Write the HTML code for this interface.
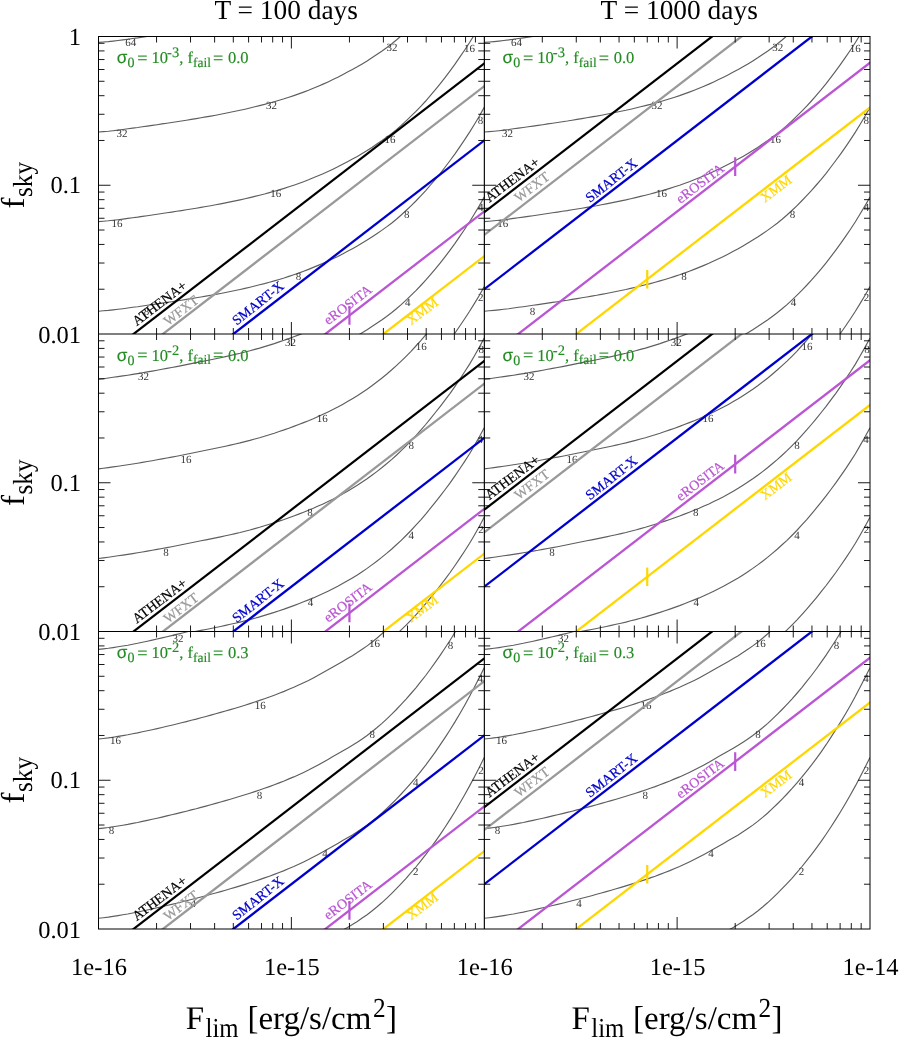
<!DOCTYPE html>
<html><head><meta charset="utf-8"><title>f_sky vs F_lim</title>
<style>html,body{margin:0;padding:0;background:#fff}body{width:899px;height:1037px;overflow:hidden;font-family:"Liberation Serif",serif}</style>
</head><body>
<svg width="899" height="1037" viewBox="0 0 899 1037" style="display:block;will-change:transform">
<rect width="100%" height="100%" fill="#fff"/>
<defs>
<clipPath id="cp00"><rect x="98.50" y="36.50" width="385.75" height="297.50"/></clipPath>
<clipPath id="cp01"><rect x="98.50" y="334.00" width="385.75" height="297.50"/></clipPath>
<clipPath id="cp02"><rect x="98.50" y="631.50" width="385.75" height="297.50"/></clipPath>
<clipPath id="cp10"><rect x="484.25" y="36.50" width="385.75" height="297.50"/></clipPath>
<clipPath id="cp11"><rect x="484.25" y="334.00" width="385.75" height="297.50"/></clipPath>
<clipPath id="cp12"><rect x="484.25" y="631.50" width="385.75" height="297.50"/></clipPath>
</defs>
<g clip-path="url(#cp00)">
<path d="M98.5,42.4 L103.4,42.0 L108.3,41.6 L113.1,41.1 L118.0,40.5 L122.9,39.9 L127.8,39.2 L132.7,38.5 L137.6,37.9 L142.4,37.2 L147.3,36.5 L152.2,35.8 L157.1,35.1 L162.0,34.3 L166.9,33.6 L171.7,32.9 L176.6,32.1 L181.5,31.4 L186.4,30.6 L191.3,29.8 L196.2,29.0 L201.0,28.2 L205.9,27.3 L210.8,26.5 L215.7,25.6 L220.6,24.7 L225.5,23.7 L230.3,22.7 L235.2,21.7 L240.1,20.7 L245.0,19.6 L249.9,18.4 L254.8,17.2 L259.6,16.0 L264.5,14.8 L269.4,13.4 L274.3,12.1 L279.2,10.7 L284.1,9.2 L288.9,7.6 L293.8,6.0 L298.7,4.3 L303.6,2.5 L308.5,0.6 L313.3,-1.4 L318.2,-3.4 L323.1,-5.5 L328.0,-7.7 L332.9,-10.0 L337.8,-12.4 L342.6,-14.9 L347.5,-17.5 L352.4,-20.1 L357.3,-22.8 L362.2,-25.7 L367.1,-28.7 L371.9,-31.8 L376.8,-35.1 L381.7,-38.4 L386.6,-41.9 L391.5,-45.6 L396.4,-49.6 L401.2,-53.8 L406.1,-58.3 L411.0,-63.0 L415.9,-67.8 L420.8,-72.9 L425.7,-78.2 L430.5,-83.8 L435.4,-89.5 L440.3,-95.5 L445.2,-101.8 L450.1,-108.3 L455.0,-115.0 L459.8,-122.0 L464.7,-129.2 L469.6,-136.7 L474.5,-144.6 L479.4,-152.8 L484.2,-161.4" fill="none" stroke="#5e5e5e" stroke-width="1.15"/>
<path d="M98.5,132.0 L103.4,131.6 L108.3,131.2 L113.1,130.7 L118.0,130.1 L122.9,129.5 L127.8,128.8 L132.7,128.1 L137.6,127.5 L142.4,126.8 L147.3,126.1 L152.2,125.4 L157.1,124.7 L162.0,123.9 L166.9,123.2 L171.7,122.5 L176.6,121.7 L181.5,121.0 L186.4,120.2 L191.3,119.4 L196.2,118.6 L201.0,117.8 L205.9,116.9 L210.8,116.1 L215.7,115.2 L220.6,114.3 L225.5,113.3 L230.3,112.3 L235.2,111.3 L240.1,110.3 L245.0,109.2 L249.9,108.0 L254.8,106.8 L259.6,105.6 L264.5,104.4 L269.4,103.0 L274.3,101.7 L279.2,100.3 L284.1,98.8 L288.9,97.2 L293.8,95.6 L298.7,93.9 L303.6,92.1 L308.5,90.2 L313.3,88.2 L318.2,86.2 L323.1,84.1 L328.0,81.9 L332.9,79.6 L337.8,77.2 L342.6,74.7 L347.5,72.1 L352.4,69.5 L357.3,66.8 L362.2,63.9 L367.1,60.9 L371.9,57.8 L376.8,54.5 L381.7,51.2 L386.6,47.7 L391.5,44.0 L396.4,40.0 L401.2,35.8 L406.1,31.3 L411.0,26.6 L415.9,21.8 L420.8,16.7 L425.7,11.4 L430.5,5.8 L435.4,0.1 L440.3,-5.9 L445.2,-12.2 L450.1,-18.7 L455.0,-25.4 L459.8,-32.4 L464.7,-39.6 L469.6,-47.1 L474.5,-55.0 L479.4,-63.2 L484.2,-71.8" fill="none" stroke="#5e5e5e" stroke-width="1.15"/>
<path d="M98.5,221.6 L103.4,221.2 L108.3,220.8 L113.1,220.3 L118.0,219.7 L122.9,219.1 L127.8,218.4 L132.7,217.7 L137.6,217.1 L142.4,216.4 L147.3,215.7 L152.2,215.0 L157.1,214.3 L162.0,213.5 L166.9,212.8 L171.7,212.1 L176.6,211.3 L181.5,210.6 L186.4,209.8 L191.3,209.0 L196.2,208.2 L201.0,207.4 L205.9,206.5 L210.8,205.7 L215.7,204.8 L220.6,203.9 L225.5,202.9 L230.3,201.9 L235.2,200.9 L240.1,199.9 L245.0,198.8 L249.9,197.6 L254.8,196.4 L259.6,195.2 L264.5,194.0 L269.4,192.6 L274.3,191.3 L279.2,189.9 L284.1,188.4 L288.9,186.8 L293.8,185.2 L298.7,183.5 L303.6,181.7 L308.5,179.8 L313.3,177.8 L318.2,175.8 L323.1,173.7 L328.0,171.5 L332.9,169.2 L337.8,166.8 L342.6,164.3 L347.5,161.7 L352.4,159.1 L357.3,156.4 L362.2,153.5 L367.1,150.5 L371.9,147.4 L376.8,144.1 L381.7,140.8 L386.6,137.3 L391.5,133.6 L396.4,129.6 L401.2,125.4 L406.1,120.9 L411.0,116.2 L415.9,111.4 L420.8,106.3 L425.7,101.0 L430.5,95.4 L435.4,89.7 L440.3,83.7 L445.2,77.4 L450.1,70.9 L455.0,64.2 L459.8,57.2 L464.7,50.0 L469.6,42.5 L474.5,34.6 L479.4,26.4 L484.2,17.8" fill="none" stroke="#5e5e5e" stroke-width="1.15"/>
<path d="M98.5,311.2 L103.4,310.8 L108.3,310.4 L113.1,309.9 L118.0,309.3 L122.9,308.7 L127.8,308.0 L132.7,307.3 L137.6,306.7 L142.4,306.0 L147.3,305.3 L152.2,304.6 L157.1,303.9 L162.0,303.1 L166.9,302.4 L171.7,301.7 L176.6,300.9 L181.5,300.2 L186.4,299.4 L191.3,298.6 L196.2,297.8 L201.0,297.0 L205.9,296.1 L210.8,295.3 L215.7,294.4 L220.6,293.5 L225.5,292.5 L230.3,291.5 L235.2,290.5 L240.1,289.5 L245.0,288.4 L249.9,287.2 L254.8,286.0 L259.6,284.8 L264.5,283.6 L269.4,282.2 L274.3,280.9 L279.2,279.5 L284.1,278.0 L288.9,276.4 L293.8,274.8 L298.7,273.1 L303.6,271.3 L308.5,269.4 L313.3,267.4 L318.2,265.4 L323.1,263.3 L328.0,261.1 L332.9,258.8 L337.8,256.4 L342.6,253.9 L347.5,251.3 L352.4,248.7 L357.3,246.0 L362.2,243.1 L367.1,240.1 L371.9,237.0 L376.8,233.7 L381.7,230.4 L386.6,226.9 L391.5,223.2 L396.4,219.2 L401.2,215.0 L406.1,210.5 L411.0,205.8 L415.9,201.0 L420.8,195.9 L425.7,190.6 L430.5,185.0 L435.4,179.3 L440.3,173.3 L445.2,167.0 L450.1,160.5 L455.0,153.8 L459.8,146.8 L464.7,139.6 L469.6,132.1 L474.5,124.2 L479.4,116.0 L484.2,107.4" fill="none" stroke="#5e5e5e" stroke-width="1.15"/>
<path d="M98.5,400.8 L103.4,400.4 L108.3,400.0 L113.1,399.5 L118.0,398.9 L122.9,398.3 L127.8,397.6 L132.7,396.9 L137.6,396.3 L142.4,395.6 L147.3,394.9 L152.2,394.2 L157.1,393.5 L162.0,392.7 L166.9,392.0 L171.7,391.3 L176.6,390.5 L181.5,389.8 L186.4,389.0 L191.3,388.2 L196.2,387.4 L201.0,386.6 L205.9,385.7 L210.8,384.9 L215.7,384.0 L220.6,383.1 L225.5,382.1 L230.3,381.1 L235.2,380.1 L240.1,379.1 L245.0,378.0 L249.9,376.8 L254.8,375.6 L259.6,374.4 L264.5,373.2 L269.4,371.8 L274.3,370.5 L279.2,369.1 L284.1,367.6 L288.9,366.0 L293.8,364.4 L298.7,362.7 L303.6,360.9 L308.5,359.0 L313.3,357.0 L318.2,355.0 L323.1,352.9 L328.0,350.7 L332.9,348.4 L337.8,346.0 L342.6,343.5 L347.5,340.9 L352.4,338.3 L357.3,335.6 L362.2,332.7 L367.1,329.7 L371.9,326.6 L376.8,323.3 L381.7,320.0 L386.6,316.5 L391.5,312.8 L396.4,308.8 L401.2,304.6 L406.1,300.1 L411.0,295.4 L415.9,290.6 L420.8,285.5 L425.7,280.2 L430.5,274.6 L435.4,268.9 L440.3,262.9 L445.2,256.6 L450.1,250.1 L455.0,243.4 L459.8,236.4 L464.7,229.2 L469.6,221.7 L474.5,213.8 L479.4,205.6 L484.2,197.0" fill="none" stroke="#5e5e5e" stroke-width="1.15"/>
<path d="M98.5,490.4 L103.4,490.0 L108.3,489.6 L113.1,489.1 L118.0,488.5 L122.9,487.9 L127.8,487.2 L132.7,486.5 L137.6,485.9 L142.4,485.2 L147.3,484.5 L152.2,483.8 L157.1,483.1 L162.0,482.3 L166.9,481.6 L171.7,480.9 L176.6,480.1 L181.5,479.4 L186.4,478.6 L191.3,477.8 L196.2,477.0 L201.0,476.2 L205.9,475.3 L210.8,474.5 L215.7,473.6 L220.6,472.7 L225.5,471.7 L230.3,470.7 L235.2,469.7 L240.1,468.7 L245.0,467.6 L249.9,466.4 L254.8,465.2 L259.6,464.0 L264.5,462.8 L269.4,461.4 L274.3,460.1 L279.2,458.7 L284.1,457.2 L288.9,455.6 L293.8,454.0 L298.7,452.3 L303.6,450.5 L308.5,448.6 L313.3,446.6 L318.2,444.6 L323.1,442.5 L328.0,440.3 L332.9,438.0 L337.8,435.6 L342.6,433.1 L347.5,430.5 L352.4,427.9 L357.3,425.2 L362.2,422.3 L367.1,419.3 L371.9,416.2 L376.8,412.9 L381.7,409.6 L386.6,406.1 L391.5,402.4 L396.4,398.4 L401.2,394.2 L406.1,389.7 L411.0,385.0 L415.9,380.2 L420.8,375.1 L425.7,369.8 L430.5,364.2 L435.4,358.5 L440.3,352.5 L445.2,346.2 L450.1,339.7 L455.0,333.0 L459.8,326.0 L464.7,318.8 L469.6,311.3 L474.5,303.4 L479.4,295.2 L484.2,286.6" fill="none" stroke="#5e5e5e" stroke-width="1.15"/>
<g font-family="Liberation Serif, serif" font-size="11" style="text-rendering:geometricPrecision" fill="#333" text-anchor="middle">
<text x="130.8" y="46.3">64</text>
<text x="121.9" y="137.0">32</text>
<text x="271.4" y="108.9">32</text>
<text x="392.0" y="50.5">32</text>
<text x="469.5" y="51.5">16</text>
<text x="117.0" y="226.7">16</text>
<text x="146.6" y="314.7">8</text>
<text x="275.7" y="197.3">16</text>
<text x="389.9" y="142.5">16</text>
<text x="298.4" y="279.6">8</text>
<text x="406.7" y="218.0">8</text>
<text x="480.5" y="124.0">8</text>
<text x="407.8" y="305.9">4</text>
<text x="480.8" y="211.3">4</text>
<text x="480.8" y="301.4">2</text>
</g>
<line x1="93.50" y1="364.85" x2="489.25" y2="59.64" stroke="#000000" stroke-width="2.2"/>
<line x1="93.50" y1="387.54" x2="489.25" y2="82.33" stroke="#999999" stroke-width="2.3"/>
<line x1="93.50" y1="441.83" x2="489.25" y2="136.62" stroke="#0000cd" stroke-width="2.3"/>
<line x1="93.50" y1="512.80" x2="489.25" y2="207.59" stroke="#ba55d3" stroke-width="2.3"/>
<line x1="93.50" y1="557.58" x2="489.25" y2="252.37" stroke="#ffd700" stroke-width="2.3"/>
<line x1="349.44" y1="306.12" x2="349.44" y2="324.72" stroke="#ba55d3" stroke-width="2.2"/>
<line x1="261.50" y1="418.71" x2="261.50" y2="437.31" stroke="#ffd700" stroke-width="2.2"/>
</g>
<g clip-path="url(#cp01)">
<path d="M98.5,289.7 L103.4,289.1 L108.3,288.4 L113.1,287.7 L118.0,287.0 L122.9,286.3 L127.8,285.6 L132.7,284.8 L137.6,284.0 L142.4,283.2 L147.3,282.3 L152.2,281.5 L157.1,280.6 L162.0,279.7 L166.9,278.8 L171.7,277.9 L176.6,277.0 L181.5,276.0 L186.4,275.0 L191.3,274.0 L196.2,273.0 L201.0,272.0 L205.9,271.1 L210.8,270.1 L215.7,269.1 L220.6,268.1 L225.5,267.0 L230.3,265.9 L235.2,264.8 L240.1,263.7 L245.0,262.4 L249.9,261.2 L254.8,259.8 L259.6,258.5 L264.5,257.0 L269.4,255.5 L274.3,254.0 L279.2,252.3 L284.1,250.7 L288.9,249.0 L293.8,247.2 L298.7,245.3 L303.6,243.4 L308.5,241.5 L313.3,239.5 L318.2,237.3 L323.1,235.1 L328.0,232.8 L332.9,230.4 L337.8,227.9 L342.6,225.2 L347.5,222.4 L352.4,219.5 L357.3,216.5 L362.2,213.3 L367.1,210.0 L371.9,206.5 L376.8,202.8 L381.7,199.0 L386.6,195.0 L391.5,190.8 L396.4,186.4 L401.2,181.9 L406.1,177.1 L411.0,172.1 L415.9,166.8 L420.8,161.4 L425.7,155.7 L430.5,149.8 L435.4,143.7 L440.3,137.5 L445.2,131.1 L450.1,124.5 L455.0,117.5 L459.8,110.4 L464.7,103.0 L469.6,95.3 L474.5,87.0 L479.4,78.3 L484.2,69.3" fill="none" stroke="#5e5e5e" stroke-width="1.15"/>
<path d="M98.5,379.3 L103.4,378.7 L108.3,378.0 L113.1,377.3 L118.0,376.6 L122.9,375.9 L127.8,375.2 L132.7,374.4 L137.6,373.6 L142.4,372.8 L147.3,371.9 L152.2,371.1 L157.1,370.2 L162.0,369.3 L166.9,368.4 L171.7,367.5 L176.6,366.6 L181.5,365.6 L186.4,364.6 L191.3,363.6 L196.2,362.6 L201.0,361.6 L205.9,360.7 L210.8,359.7 L215.7,358.7 L220.6,357.7 L225.5,356.6 L230.3,355.5 L235.2,354.4 L240.1,353.3 L245.0,352.0 L249.9,350.8 L254.8,349.4 L259.6,348.1 L264.5,346.6 L269.4,345.1 L274.3,343.6 L279.2,341.9 L284.1,340.3 L288.9,338.6 L293.8,336.8 L298.7,334.9 L303.6,333.0 L308.5,331.1 L313.3,329.1 L318.2,326.9 L323.1,324.7 L328.0,322.4 L332.9,320.0 L337.8,317.5 L342.6,314.8 L347.5,312.0 L352.4,309.1 L357.3,306.1 L362.2,302.9 L367.1,299.6 L371.9,296.1 L376.8,292.4 L381.7,288.6 L386.6,284.6 L391.5,280.4 L396.4,276.0 L401.2,271.5 L406.1,266.7 L411.0,261.7 L415.9,256.4 L420.8,251.0 L425.7,245.3 L430.5,239.4 L435.4,233.3 L440.3,227.1 L445.2,220.7 L450.1,214.1 L455.0,207.1 L459.8,200.0 L464.7,192.6 L469.6,184.9 L474.5,176.6 L479.4,167.9 L484.2,158.9" fill="none" stroke="#5e5e5e" stroke-width="1.15"/>
<path d="M98.5,468.9 L103.4,468.3 L108.3,467.6 L113.1,466.9 L118.0,466.2 L122.9,465.5 L127.8,464.8 L132.7,464.0 L137.6,463.2 L142.4,462.4 L147.3,461.5 L152.2,460.7 L157.1,459.8 L162.0,458.9 L166.9,458.0 L171.7,457.1 L176.6,456.2 L181.5,455.2 L186.4,454.2 L191.3,453.2 L196.2,452.2 L201.0,451.2 L205.9,450.3 L210.8,449.3 L215.7,448.3 L220.6,447.3 L225.5,446.2 L230.3,445.1 L235.2,444.0 L240.1,442.9 L245.0,441.6 L249.9,440.4 L254.8,439.0 L259.6,437.7 L264.5,436.2 L269.4,434.7 L274.3,433.2 L279.2,431.5 L284.1,429.9 L288.9,428.2 L293.8,426.4 L298.7,424.5 L303.6,422.6 L308.5,420.7 L313.3,418.7 L318.2,416.5 L323.1,414.3 L328.0,412.0 L332.9,409.6 L337.8,407.1 L342.6,404.4 L347.5,401.6 L352.4,398.7 L357.3,395.7 L362.2,392.5 L367.1,389.2 L371.9,385.7 L376.8,382.0 L381.7,378.2 L386.6,374.2 L391.5,370.0 L396.4,365.6 L401.2,361.1 L406.1,356.3 L411.0,351.3 L415.9,346.0 L420.8,340.6 L425.7,334.9 L430.5,329.0 L435.4,322.9 L440.3,316.7 L445.2,310.3 L450.1,303.7 L455.0,296.7 L459.8,289.6 L464.7,282.2 L469.6,274.5 L474.5,266.2 L479.4,257.5 L484.2,248.5" fill="none" stroke="#5e5e5e" stroke-width="1.15"/>
<path d="M98.5,558.5 L103.4,557.9 L108.3,557.2 L113.1,556.5 L118.0,555.8 L122.9,555.1 L127.8,554.4 L132.7,553.6 L137.6,552.8 L142.4,552.0 L147.3,551.1 L152.2,550.3 L157.1,549.4 L162.0,548.5 L166.9,547.6 L171.7,546.7 L176.6,545.8 L181.5,544.8 L186.4,543.8 L191.3,542.8 L196.2,541.8 L201.0,540.8 L205.9,539.9 L210.8,538.9 L215.7,537.9 L220.6,536.9 L225.5,535.8 L230.3,534.7 L235.2,533.6 L240.1,532.5 L245.0,531.2 L249.9,530.0 L254.8,528.6 L259.6,527.3 L264.5,525.8 L269.4,524.3 L274.3,522.8 L279.2,521.1 L284.1,519.5 L288.9,517.8 L293.8,516.0 L298.7,514.1 L303.6,512.2 L308.5,510.3 L313.3,508.3 L318.2,506.1 L323.1,503.9 L328.0,501.6 L332.9,499.2 L337.8,496.7 L342.6,494.0 L347.5,491.2 L352.4,488.3 L357.3,485.3 L362.2,482.1 L367.1,478.8 L371.9,475.3 L376.8,471.6 L381.7,467.8 L386.6,463.8 L391.5,459.6 L396.4,455.2 L401.2,450.7 L406.1,445.9 L411.0,440.9 L415.9,435.6 L420.8,430.2 L425.7,424.5 L430.5,418.6 L435.4,412.5 L440.3,406.3 L445.2,399.9 L450.1,393.3 L455.0,386.3 L459.8,379.2 L464.7,371.8 L469.6,364.1 L474.5,355.8 L479.4,347.1 L484.2,338.1" fill="none" stroke="#5e5e5e" stroke-width="1.15"/>
<path d="M98.5,648.1 L103.4,647.5 L108.3,646.8 L113.1,646.1 L118.0,645.4 L122.9,644.7 L127.8,644.0 L132.7,643.2 L137.6,642.4 L142.4,641.6 L147.3,640.7 L152.2,639.9 L157.1,639.0 L162.0,638.1 L166.9,637.2 L171.7,636.3 L176.6,635.4 L181.5,634.4 L186.4,633.4 L191.3,632.4 L196.2,631.4 L201.0,630.4 L205.9,629.5 L210.8,628.5 L215.7,627.5 L220.6,626.5 L225.5,625.4 L230.3,624.3 L235.2,623.2 L240.1,622.1 L245.0,620.8 L249.9,619.6 L254.8,618.2 L259.6,616.9 L264.5,615.4 L269.4,613.9 L274.3,612.4 L279.2,610.7 L284.1,609.1 L288.9,607.4 L293.8,605.6 L298.7,603.7 L303.6,601.8 L308.5,599.9 L313.3,597.9 L318.2,595.7 L323.1,593.5 L328.0,591.2 L332.9,588.8 L337.8,586.3 L342.6,583.6 L347.5,580.8 L352.4,577.9 L357.3,574.9 L362.2,571.7 L367.1,568.4 L371.9,564.9 L376.8,561.2 L381.7,557.4 L386.6,553.4 L391.5,549.2 L396.4,544.8 L401.2,540.3 L406.1,535.5 L411.0,530.5 L415.9,525.2 L420.8,519.8 L425.7,514.1 L430.5,508.2 L435.4,502.1 L440.3,495.9 L445.2,489.5 L450.1,482.9 L455.0,475.9 L459.8,468.8 L464.7,461.4 L469.6,453.7 L474.5,445.4 L479.4,436.7 L484.2,427.7" fill="none" stroke="#5e5e5e" stroke-width="1.15"/>
<path d="M98.5,737.7 L103.4,737.1 L108.3,736.4 L113.1,735.7 L118.0,735.0 L122.9,734.3 L127.8,733.6 L132.7,732.8 L137.6,732.0 L142.4,731.2 L147.3,730.3 L152.2,729.5 L157.1,728.6 L162.0,727.7 L166.9,726.8 L171.7,725.9 L176.6,725.0 L181.5,724.0 L186.4,723.0 L191.3,722.0 L196.2,721.0 L201.0,720.0 L205.9,719.1 L210.8,718.1 L215.7,717.1 L220.6,716.1 L225.5,715.0 L230.3,713.9 L235.2,712.8 L240.1,711.7 L245.0,710.4 L249.9,709.2 L254.8,707.8 L259.6,706.5 L264.5,705.0 L269.4,703.5 L274.3,702.0 L279.2,700.3 L284.1,698.7 L288.9,697.0 L293.8,695.2 L298.7,693.3 L303.6,691.4 L308.5,689.5 L313.3,687.5 L318.2,685.3 L323.1,683.1 L328.0,680.8 L332.9,678.4 L337.8,675.9 L342.6,673.2 L347.5,670.4 L352.4,667.5 L357.3,664.5 L362.2,661.3 L367.1,658.0 L371.9,654.5 L376.8,650.8 L381.7,647.0 L386.6,643.0 L391.5,638.8 L396.4,634.4 L401.2,629.9 L406.1,625.1 L411.0,620.1 L415.9,614.8 L420.8,609.4 L425.7,603.7 L430.5,597.8 L435.4,591.7 L440.3,585.5 L445.2,579.1 L450.1,572.5 L455.0,565.5 L459.8,558.4 L464.7,551.0 L469.6,543.3 L474.5,535.0 L479.4,526.3 L484.2,517.3" fill="none" stroke="#5e5e5e" stroke-width="1.15"/>
<g font-family="Liberation Serif, serif" font-size="11" style="text-rendering:geometricPrecision" fill="#333" text-anchor="middle">
<text x="143.4" y="380.2">32</text>
<text x="290.5" y="346.0">32</text>
<text x="186.1" y="462.5">16</text>
<text x="322.3" y="422.0">16</text>
<text x="421.3" y="349.5">16</text>
<text x="166.1" y="555.8">8</text>
<text x="310.0" y="516.4">8</text>
<text x="411.2" y="449.2">8</text>
<text x="481.3" y="353.1">8</text>
<text x="310.5" y="605.9">4</text>
<text x="411.2" y="539.1">4</text>
<text x="480.2" y="442.5">4</text>
<text x="480.9" y="532.9">2</text>
</g>
<line x1="93.50" y1="662.35" x2="489.25" y2="357.14" stroke="#000000" stroke-width="2.2"/>
<line x1="93.50" y1="685.04" x2="489.25" y2="379.83" stroke="#999999" stroke-width="2.3"/>
<line x1="93.50" y1="739.33" x2="489.25" y2="434.12" stroke="#0000cd" stroke-width="2.3"/>
<line x1="93.50" y1="810.30" x2="489.25" y2="505.09" stroke="#ba55d3" stroke-width="2.3"/>
<line x1="93.50" y1="855.08" x2="489.25" y2="549.87" stroke="#ffd700" stroke-width="2.3"/>
<line x1="349.44" y1="603.62" x2="349.44" y2="622.22" stroke="#ba55d3" stroke-width="2.2"/>
<line x1="261.50" y1="716.21" x2="261.50" y2="734.81" stroke="#ffd700" stroke-width="2.2"/>
</g>
<g clip-path="url(#cp02)">
<path d="M98.5,559.8 L103.4,559.3 L108.3,558.7 L113.1,558.0 L118.0,557.2 L122.9,556.4 L127.8,555.6 L132.7,554.6 L137.6,553.7 L142.4,552.6 L147.3,551.6 L152.2,550.5 L157.1,549.4 L162.0,548.3 L166.9,547.1 L171.7,546.0 L176.6,544.8 L181.5,543.6 L186.4,542.4 L191.3,541.1 L196.2,539.9 L201.0,538.6 L205.9,537.3 L210.8,535.9 L215.7,534.6 L220.6,533.2 L225.5,531.8 L230.3,530.4 L235.2,529.0 L240.1,527.5 L245.0,526.0 L249.9,524.4 L254.8,522.8 L259.6,521.2 L264.5,519.5 L269.4,517.8 L274.3,516.0 L279.2,514.1 L284.1,512.2 L288.9,510.1 L293.8,508.1 L298.7,505.9 L303.6,503.6 L308.5,501.2 L313.3,498.7 L318.2,496.1 L323.1,493.4 L328.0,490.6 L332.9,487.8 L337.8,485.0 L342.6,482.2 L347.5,479.4 L352.4,476.5 L357.3,473.4 L362.2,470.1 L367.1,466.7 L371.9,463.0 L376.8,459.0 L381.7,454.8 L386.6,450.3 L391.5,445.6 L396.4,440.7 L401.2,435.6 L406.1,430.3 L411.0,424.7 L415.9,419.0 L420.8,412.9 L425.7,406.7 L430.5,400.2 L435.4,393.4 L440.3,386.3 L445.2,379.0 L450.1,371.4 L455.0,363.5 L459.8,355.3 L464.7,346.8 L469.6,337.9 L474.5,328.7 L479.4,319.2 L484.2,309.4" fill="none" stroke="#5e5e5e" stroke-width="1.15"/>
<path d="M98.5,649.4 L103.4,648.9 L108.3,648.3 L113.1,647.6 L118.0,646.8 L122.9,646.0 L127.8,645.2 L132.7,644.2 L137.6,643.3 L142.4,642.2 L147.3,641.2 L152.2,640.1 L157.1,639.0 L162.0,637.9 L166.9,636.7 L171.7,635.6 L176.6,634.4 L181.5,633.2 L186.4,632.0 L191.3,630.7 L196.2,629.5 L201.0,628.2 L205.9,626.9 L210.8,625.5 L215.7,624.2 L220.6,622.8 L225.5,621.4 L230.3,620.0 L235.2,618.6 L240.1,617.1 L245.0,615.6 L249.9,614.0 L254.8,612.4 L259.6,610.8 L264.5,609.1 L269.4,607.4 L274.3,605.6 L279.2,603.7 L284.1,601.8 L288.9,599.7 L293.8,597.7 L298.7,595.5 L303.6,593.2 L308.5,590.8 L313.3,588.3 L318.2,585.7 L323.1,583.0 L328.0,580.2 L332.9,577.4 L337.8,574.6 L342.6,571.8 L347.5,569.0 L352.4,566.1 L357.3,563.0 L362.2,559.7 L367.1,556.3 L371.9,552.6 L376.8,548.6 L381.7,544.4 L386.6,539.9 L391.5,535.2 L396.4,530.3 L401.2,525.2 L406.1,519.9 L411.0,514.3 L415.9,508.6 L420.8,502.5 L425.7,496.3 L430.5,489.8 L435.4,483.0 L440.3,475.9 L445.2,468.6 L450.1,461.0 L455.0,453.1 L459.8,444.9 L464.7,436.4 L469.6,427.5 L474.5,418.3 L479.4,408.8 L484.2,399.0" fill="none" stroke="#5e5e5e" stroke-width="1.15"/>
<path d="M98.5,739.0 L103.4,738.5 L108.3,737.9 L113.1,737.2 L118.0,736.4 L122.9,735.6 L127.8,734.8 L132.7,733.8 L137.6,732.9 L142.4,731.8 L147.3,730.8 L152.2,729.7 L157.1,728.6 L162.0,727.5 L166.9,726.3 L171.7,725.2 L176.6,724.0 L181.5,722.8 L186.4,721.6 L191.3,720.3 L196.2,719.1 L201.0,717.8 L205.9,716.5 L210.8,715.1 L215.7,713.8 L220.6,712.4 L225.5,711.0 L230.3,709.6 L235.2,708.2 L240.1,706.7 L245.0,705.2 L249.9,703.6 L254.8,702.0 L259.6,700.4 L264.5,698.7 L269.4,697.0 L274.3,695.2 L279.2,693.3 L284.1,691.4 L288.9,689.3 L293.8,687.3 L298.7,685.1 L303.6,682.8 L308.5,680.4 L313.3,677.9 L318.2,675.3 L323.1,672.6 L328.0,669.8 L332.9,667.0 L337.8,664.2 L342.6,661.4 L347.5,658.6 L352.4,655.7 L357.3,652.6 L362.2,649.3 L367.1,645.9 L371.9,642.2 L376.8,638.2 L381.7,634.0 L386.6,629.5 L391.5,624.8 L396.4,619.9 L401.2,614.8 L406.1,609.5 L411.0,603.9 L415.9,598.2 L420.8,592.1 L425.7,585.9 L430.5,579.4 L435.4,572.6 L440.3,565.5 L445.2,558.2 L450.1,550.6 L455.0,542.7 L459.8,534.5 L464.7,526.0 L469.6,517.1 L474.5,507.9 L479.4,498.4 L484.2,488.6" fill="none" stroke="#5e5e5e" stroke-width="1.15"/>
<path d="M98.5,828.6 L103.4,828.1 L108.3,827.5 L113.1,826.8 L118.0,826.0 L122.9,825.2 L127.8,824.4 L132.7,823.4 L137.6,822.5 L142.4,821.4 L147.3,820.4 L152.2,819.3 L157.1,818.2 L162.0,817.1 L166.9,815.9 L171.7,814.8 L176.6,813.6 L181.5,812.4 L186.4,811.2 L191.3,809.9 L196.2,808.7 L201.0,807.4 L205.9,806.1 L210.8,804.7 L215.7,803.4 L220.6,802.0 L225.5,800.6 L230.3,799.2 L235.2,797.8 L240.1,796.3 L245.0,794.8 L249.9,793.2 L254.8,791.6 L259.6,790.0 L264.5,788.3 L269.4,786.6 L274.3,784.8 L279.2,782.9 L284.1,781.0 L288.9,778.9 L293.8,776.9 L298.7,774.7 L303.6,772.4 L308.5,770.0 L313.3,767.5 L318.2,764.9 L323.1,762.2 L328.0,759.4 L332.9,756.6 L337.8,753.8 L342.6,751.0 L347.5,748.2 L352.4,745.3 L357.3,742.2 L362.2,738.9 L367.1,735.5 L371.9,731.8 L376.8,727.8 L381.7,723.6 L386.6,719.1 L391.5,714.4 L396.4,709.5 L401.2,704.4 L406.1,699.1 L411.0,693.5 L415.9,687.8 L420.8,681.7 L425.7,675.5 L430.5,669.0 L435.4,662.2 L440.3,655.1 L445.2,647.8 L450.1,640.2 L455.0,632.3 L459.8,624.1 L464.7,615.6 L469.6,606.7 L474.5,597.5 L479.4,588.0 L484.2,578.2" fill="none" stroke="#5e5e5e" stroke-width="1.15"/>
<path d="M98.5,918.2 L103.4,917.7 L108.3,917.1 L113.1,916.4 L118.0,915.6 L122.9,914.8 L127.8,914.0 L132.7,913.0 L137.6,912.1 L142.4,911.0 L147.3,910.0 L152.2,908.9 L157.1,907.8 L162.0,906.7 L166.9,905.5 L171.7,904.4 L176.6,903.2 L181.5,902.0 L186.4,900.8 L191.3,899.5 L196.2,898.3 L201.0,897.0 L205.9,895.7 L210.8,894.3 L215.7,893.0 L220.6,891.6 L225.5,890.2 L230.3,888.8 L235.2,887.4 L240.1,885.9 L245.0,884.4 L249.9,882.8 L254.8,881.2 L259.6,879.6 L264.5,877.9 L269.4,876.2 L274.3,874.4 L279.2,872.5 L284.1,870.6 L288.9,868.5 L293.8,866.5 L298.7,864.3 L303.6,862.0 L308.5,859.6 L313.3,857.1 L318.2,854.5 L323.1,851.8 L328.0,849.0 L332.9,846.2 L337.8,843.4 L342.6,840.6 L347.5,837.8 L352.4,834.9 L357.3,831.8 L362.2,828.5 L367.1,825.1 L371.9,821.4 L376.8,817.4 L381.7,813.2 L386.6,808.7 L391.5,804.0 L396.4,799.1 L401.2,794.0 L406.1,788.7 L411.0,783.1 L415.9,777.4 L420.8,771.3 L425.7,765.1 L430.5,758.6 L435.4,751.8 L440.3,744.7 L445.2,737.4 L450.1,729.8 L455.0,721.9 L459.8,713.7 L464.7,705.2 L469.6,696.3 L474.5,687.1 L479.4,677.6 L484.2,667.8" fill="none" stroke="#5e5e5e" stroke-width="1.15"/>
<path d="M98.5,1007.8 L103.4,1007.3 L108.3,1006.7 L113.1,1006.0 L118.0,1005.2 L122.9,1004.4 L127.8,1003.6 L132.7,1002.6 L137.6,1001.7 L142.4,1000.6 L147.3,999.6 L152.2,998.5 L157.1,997.4 L162.0,996.3 L166.9,995.1 L171.7,994.0 L176.6,992.8 L181.5,991.6 L186.4,990.4 L191.3,989.1 L196.2,987.9 L201.0,986.6 L205.9,985.3 L210.8,983.9 L215.7,982.6 L220.6,981.2 L225.5,979.8 L230.3,978.4 L235.2,977.0 L240.1,975.5 L245.0,974.0 L249.9,972.4 L254.8,970.8 L259.6,969.2 L264.5,967.5 L269.4,965.8 L274.3,964.0 L279.2,962.1 L284.1,960.2 L288.9,958.1 L293.8,956.1 L298.7,953.9 L303.6,951.6 L308.5,949.2 L313.3,946.7 L318.2,944.1 L323.1,941.4 L328.0,938.6 L332.9,935.8 L337.8,933.0 L342.6,930.2 L347.5,927.4 L352.4,924.5 L357.3,921.4 L362.2,918.1 L367.1,914.7 L371.9,911.0 L376.8,907.0 L381.7,902.8 L386.6,898.3 L391.5,893.6 L396.4,888.7 L401.2,883.6 L406.1,878.3 L411.0,872.7 L415.9,867.0 L420.8,860.9 L425.7,854.7 L430.5,848.2 L435.4,841.4 L440.3,834.3 L445.2,827.0 L450.1,819.4 L455.0,811.5 L459.8,803.3 L464.7,794.8 L469.6,785.9 L474.5,776.7 L479.4,767.2 L484.2,757.4" fill="none" stroke="#5e5e5e" stroke-width="1.15"/>
<g font-family="Liberation Serif, serif" font-size="11" style="text-rendering:geometricPrecision" fill="#333" text-anchor="middle">
<text x="177.9" y="642.3">32</text>
<text x="115.6" y="743.5">16</text>
<text x="260.2" y="709.0">16</text>
<text x="374.5" y="647.4">16</text>
<text x="111.6" y="834.2">8</text>
<text x="259.5" y="798.6">8</text>
<text x="372.3" y="738.0">8</text>
<text x="450.6" y="649.0">8</text>
<text x="193.2" y="906.8">4</text>
<text x="325.1" y="856.9">4</text>
<text x="415.7" y="785.5">4</text>
<text x="480.2" y="681.9">4</text>
<text x="415.7" y="874.7">2</text>
<text x="480.9" y="774.2">2</text>
</g>
<line x1="93.50" y1="959.85" x2="489.25" y2="654.64" stroke="#000000" stroke-width="2.2"/>
<line x1="93.50" y1="982.54" x2="489.25" y2="677.33" stroke="#999999" stroke-width="2.3"/>
<line x1="93.50" y1="1036.83" x2="489.25" y2="731.62" stroke="#0000cd" stroke-width="2.3"/>
<line x1="93.50" y1="1107.80" x2="489.25" y2="802.59" stroke="#ba55d3" stroke-width="2.3"/>
<line x1="93.50" y1="1152.58" x2="489.25" y2="847.37" stroke="#ffd700" stroke-width="2.3"/>
<line x1="349.44" y1="901.12" x2="349.44" y2="919.72" stroke="#ba55d3" stroke-width="2.2"/>
<line x1="261.50" y1="1013.71" x2="261.50" y2="1032.31" stroke="#ffd700" stroke-width="2.2"/>
</g>
<g clip-path="url(#cp10)">
<path d="M484.2,42.4 L489.1,42.0 L494.0,41.6 L498.9,41.1 L503.8,40.5 L508.7,39.9 L513.5,39.2 L518.4,38.5 L523.3,37.9 L528.2,37.2 L533.1,36.5 L538.0,35.8 L542.8,35.1 L547.7,34.3 L552.6,33.6 L557.5,32.9 L562.4,32.1 L567.3,31.4 L572.1,30.6 L577.0,29.8 L581.9,29.0 L586.8,28.2 L591.7,27.3 L596.6,26.5 L601.4,25.6 L606.3,24.7 L611.2,23.7 L616.1,22.7 L621.0,21.7 L625.9,20.7 L630.7,19.6 L635.6,18.4 L640.5,17.2 L645.4,16.0 L650.3,14.8 L655.2,13.4 L660.0,12.1 L664.9,10.7 L669.8,9.2 L674.7,7.6 L679.6,6.0 L684.4,4.3 L689.3,2.5 L694.2,0.6 L699.1,-1.4 L704.0,-3.4 L708.9,-5.5 L713.7,-7.7 L718.6,-10.0 L723.5,-12.4 L728.4,-14.9 L733.3,-17.5 L738.2,-20.1 L743.0,-22.8 L747.9,-25.7 L752.8,-28.7 L757.7,-31.8 L762.6,-35.1 L767.5,-38.4 L772.3,-41.9 L777.2,-45.6 L782.1,-49.6 L787.0,-53.8 L791.9,-58.3 L796.8,-63.0 L801.6,-67.8 L806.5,-72.9 L811.4,-78.2 L816.3,-83.8 L821.2,-89.5 L826.1,-95.5 L830.9,-101.8 L835.8,-108.3 L840.7,-115.0 L845.6,-122.0 L850.5,-129.2 L855.4,-136.7 L860.2,-144.6 L865.1,-152.8 L870.0,-161.4" fill="none" stroke="#5e5e5e" stroke-width="1.15"/>
<path d="M484.2,132.0 L489.1,131.6 L494.0,131.2 L498.9,130.7 L503.8,130.1 L508.7,129.5 L513.5,128.8 L518.4,128.1 L523.3,127.5 L528.2,126.8 L533.1,126.1 L538.0,125.4 L542.8,124.7 L547.7,123.9 L552.6,123.2 L557.5,122.5 L562.4,121.7 L567.3,121.0 L572.1,120.2 L577.0,119.4 L581.9,118.6 L586.8,117.8 L591.7,116.9 L596.6,116.1 L601.4,115.2 L606.3,114.3 L611.2,113.3 L616.1,112.3 L621.0,111.3 L625.9,110.3 L630.7,109.2 L635.6,108.0 L640.5,106.8 L645.4,105.6 L650.3,104.4 L655.2,103.0 L660.0,101.7 L664.9,100.3 L669.8,98.8 L674.7,97.2 L679.6,95.6 L684.4,93.9 L689.3,92.1 L694.2,90.2 L699.1,88.2 L704.0,86.2 L708.9,84.1 L713.7,81.9 L718.6,79.6 L723.5,77.2 L728.4,74.7 L733.3,72.1 L738.2,69.5 L743.0,66.8 L747.9,63.9 L752.8,60.9 L757.7,57.8 L762.6,54.5 L767.5,51.2 L772.3,47.7 L777.2,44.0 L782.1,40.0 L787.0,35.8 L791.9,31.3 L796.8,26.6 L801.6,21.8 L806.5,16.7 L811.4,11.4 L816.3,5.8 L821.2,0.1 L826.1,-5.9 L830.9,-12.2 L835.8,-18.7 L840.7,-25.4 L845.6,-32.4 L850.5,-39.6 L855.4,-47.1 L860.2,-55.0 L865.1,-63.2 L870.0,-71.8" fill="none" stroke="#5e5e5e" stroke-width="1.15"/>
<path d="M484.2,221.6 L489.1,221.2 L494.0,220.8 L498.9,220.3 L503.8,219.7 L508.7,219.1 L513.5,218.4 L518.4,217.7 L523.3,217.1 L528.2,216.4 L533.1,215.7 L538.0,215.0 L542.8,214.3 L547.7,213.5 L552.6,212.8 L557.5,212.1 L562.4,211.3 L567.3,210.6 L572.1,209.8 L577.0,209.0 L581.9,208.2 L586.8,207.4 L591.7,206.5 L596.6,205.7 L601.4,204.8 L606.3,203.9 L611.2,202.9 L616.1,201.9 L621.0,200.9 L625.9,199.9 L630.7,198.8 L635.6,197.6 L640.5,196.4 L645.4,195.2 L650.3,194.0 L655.2,192.6 L660.0,191.3 L664.9,189.9 L669.8,188.4 L674.7,186.8 L679.6,185.2 L684.4,183.5 L689.3,181.7 L694.2,179.8 L699.1,177.8 L704.0,175.8 L708.9,173.7 L713.7,171.5 L718.6,169.2 L723.5,166.8 L728.4,164.3 L733.3,161.7 L738.2,159.1 L743.0,156.4 L747.9,153.5 L752.8,150.5 L757.7,147.4 L762.6,144.1 L767.5,140.8 L772.3,137.3 L777.2,133.6 L782.1,129.6 L787.0,125.4 L791.9,120.9 L796.8,116.2 L801.6,111.4 L806.5,106.3 L811.4,101.0 L816.3,95.4 L821.2,89.7 L826.1,83.7 L830.9,77.4 L835.8,70.9 L840.7,64.2 L845.6,57.2 L850.5,50.0 L855.4,42.5 L860.2,34.6 L865.1,26.4 L870.0,17.8" fill="none" stroke="#5e5e5e" stroke-width="1.15"/>
<path d="M484.2,311.2 L489.1,310.8 L494.0,310.4 L498.9,309.9 L503.8,309.3 L508.7,308.7 L513.5,308.0 L518.4,307.3 L523.3,306.7 L528.2,306.0 L533.1,305.3 L538.0,304.6 L542.8,303.9 L547.7,303.1 L552.6,302.4 L557.5,301.7 L562.4,300.9 L567.3,300.2 L572.1,299.4 L577.0,298.6 L581.9,297.8 L586.8,297.0 L591.7,296.1 L596.6,295.3 L601.4,294.4 L606.3,293.5 L611.2,292.5 L616.1,291.5 L621.0,290.5 L625.9,289.5 L630.7,288.4 L635.6,287.2 L640.5,286.0 L645.4,284.8 L650.3,283.6 L655.2,282.2 L660.0,280.9 L664.9,279.5 L669.8,278.0 L674.7,276.4 L679.6,274.8 L684.4,273.1 L689.3,271.3 L694.2,269.4 L699.1,267.4 L704.0,265.4 L708.9,263.3 L713.7,261.1 L718.6,258.8 L723.5,256.4 L728.4,253.9 L733.3,251.3 L738.2,248.7 L743.0,246.0 L747.9,243.1 L752.8,240.1 L757.7,237.0 L762.6,233.7 L767.5,230.4 L772.3,226.9 L777.2,223.2 L782.1,219.2 L787.0,215.0 L791.9,210.5 L796.8,205.8 L801.6,201.0 L806.5,195.9 L811.4,190.6 L816.3,185.0 L821.2,179.3 L826.1,173.3 L830.9,167.0 L835.8,160.5 L840.7,153.8 L845.6,146.8 L850.5,139.6 L855.4,132.1 L860.2,124.2 L865.1,116.0 L870.0,107.4" fill="none" stroke="#5e5e5e" stroke-width="1.15"/>
<path d="M484.2,400.8 L489.1,400.4 L494.0,400.0 L498.9,399.5 L503.8,398.9 L508.7,398.3 L513.5,397.6 L518.4,396.9 L523.3,396.3 L528.2,395.6 L533.1,394.9 L538.0,394.2 L542.8,393.5 L547.7,392.7 L552.6,392.0 L557.5,391.3 L562.4,390.5 L567.3,389.8 L572.1,389.0 L577.0,388.2 L581.9,387.4 L586.8,386.6 L591.7,385.7 L596.6,384.9 L601.4,384.0 L606.3,383.1 L611.2,382.1 L616.1,381.1 L621.0,380.1 L625.9,379.1 L630.7,378.0 L635.6,376.8 L640.5,375.6 L645.4,374.4 L650.3,373.2 L655.2,371.8 L660.0,370.5 L664.9,369.1 L669.8,367.6 L674.7,366.0 L679.6,364.4 L684.4,362.7 L689.3,360.9 L694.2,359.0 L699.1,357.0 L704.0,355.0 L708.9,352.9 L713.7,350.7 L718.6,348.4 L723.5,346.0 L728.4,343.5 L733.3,340.9 L738.2,338.3 L743.0,335.6 L747.9,332.7 L752.8,329.7 L757.7,326.6 L762.6,323.3 L767.5,320.0 L772.3,316.5 L777.2,312.8 L782.1,308.8 L787.0,304.6 L791.9,300.1 L796.8,295.4 L801.6,290.6 L806.5,285.5 L811.4,280.2 L816.3,274.6 L821.2,268.9 L826.1,262.9 L830.9,256.6 L835.8,250.1 L840.7,243.4 L845.6,236.4 L850.5,229.2 L855.4,221.7 L860.2,213.8 L865.1,205.6 L870.0,197.0" fill="none" stroke="#5e5e5e" stroke-width="1.15"/>
<path d="M484.2,490.4 L489.1,490.0 L494.0,489.6 L498.9,489.1 L503.8,488.5 L508.7,487.9 L513.5,487.2 L518.4,486.5 L523.3,485.9 L528.2,485.2 L533.1,484.5 L538.0,483.8 L542.8,483.1 L547.7,482.3 L552.6,481.6 L557.5,480.9 L562.4,480.1 L567.3,479.4 L572.1,478.6 L577.0,477.8 L581.9,477.0 L586.8,476.2 L591.7,475.3 L596.6,474.5 L601.4,473.6 L606.3,472.7 L611.2,471.7 L616.1,470.7 L621.0,469.7 L625.9,468.7 L630.7,467.6 L635.6,466.4 L640.5,465.2 L645.4,464.0 L650.3,462.8 L655.2,461.4 L660.0,460.1 L664.9,458.7 L669.8,457.2 L674.7,455.6 L679.6,454.0 L684.4,452.3 L689.3,450.5 L694.2,448.6 L699.1,446.6 L704.0,444.6 L708.9,442.5 L713.7,440.3 L718.6,438.0 L723.5,435.6 L728.4,433.1 L733.3,430.5 L738.2,427.9 L743.0,425.2 L747.9,422.3 L752.8,419.3 L757.7,416.2 L762.6,412.9 L767.5,409.6 L772.3,406.1 L777.2,402.4 L782.1,398.4 L787.0,394.2 L791.9,389.7 L796.8,385.0 L801.6,380.2 L806.5,375.1 L811.4,369.8 L816.3,364.2 L821.2,358.5 L826.1,352.5 L830.9,346.2 L835.8,339.7 L840.7,333.0 L845.6,326.0 L850.5,318.8 L855.4,311.3 L860.2,303.4 L865.1,295.2 L870.0,286.6" fill="none" stroke="#5e5e5e" stroke-width="1.15"/>
<g font-family="Liberation Serif, serif" font-size="11" style="text-rendering:geometricPrecision" fill="#333" text-anchor="middle">
<text x="516.5" y="46.3">64</text>
<text x="507.6" y="137.0">32</text>
<text x="657.1" y="108.9">32</text>
<text x="777.8" y="50.5">32</text>
<text x="855.2" y="51.5">16</text>
<text x="502.8" y="226.7">16</text>
<text x="532.4" y="314.7">8</text>
<text x="661.5" y="197.3">16</text>
<text x="775.6" y="142.5">16</text>
<text x="684.1" y="279.6">8</text>
<text x="792.5" y="218.0">8</text>
<text x="866.2" y="124.0">8</text>
<text x="793.5" y="305.9">4</text>
<text x="866.5" y="211.3">4</text>
<text x="866.5" y="301.4">2</text>
</g>
<line x1="479.25" y1="216.10" x2="875.00" y2="-89.11" stroke="#000000" stroke-width="2.2"/>
<line x1="479.25" y1="238.79" x2="875.00" y2="-66.42" stroke="#999999" stroke-width="2.3"/>
<line x1="479.25" y1="293.08" x2="875.00" y2="-12.13" stroke="#0000cd" stroke-width="2.3"/>
<line x1="479.25" y1="364.05" x2="875.00" y2="58.84" stroke="#ba55d3" stroke-width="2.3"/>
<line x1="479.25" y1="408.83" x2="875.00" y2="103.62" stroke="#ffd700" stroke-width="2.3"/>
<line x1="735.19" y1="157.37" x2="735.19" y2="175.97" stroke="#ba55d3" stroke-width="2.2"/>
<line x1="647.25" y1="269.96" x2="647.25" y2="288.56" stroke="#ffd700" stroke-width="2.2"/>
</g>
<g clip-path="url(#cp11)">
<path d="M484.2,289.7 L489.1,289.1 L494.0,288.4 L498.9,287.7 L503.8,287.0 L508.7,286.3 L513.5,285.6 L518.4,284.8 L523.3,284.0 L528.2,283.2 L533.1,282.3 L538.0,281.5 L542.8,280.6 L547.7,279.7 L552.6,278.8 L557.5,277.9 L562.4,277.0 L567.3,276.0 L572.1,275.0 L577.0,274.0 L581.9,273.0 L586.8,272.0 L591.7,271.1 L596.6,270.1 L601.4,269.1 L606.3,268.1 L611.2,267.0 L616.1,265.9 L621.0,264.8 L625.9,263.7 L630.7,262.4 L635.6,261.2 L640.5,259.8 L645.4,258.5 L650.3,257.0 L655.2,255.5 L660.0,254.0 L664.9,252.3 L669.8,250.7 L674.7,249.0 L679.6,247.2 L684.4,245.3 L689.3,243.4 L694.2,241.5 L699.1,239.5 L704.0,237.3 L708.9,235.1 L713.7,232.8 L718.6,230.4 L723.5,227.9 L728.4,225.2 L733.3,222.4 L738.2,219.5 L743.0,216.5 L747.9,213.3 L752.8,210.0 L757.7,206.5 L762.6,202.8 L767.5,199.0 L772.3,195.0 L777.2,190.8 L782.1,186.4 L787.0,181.9 L791.9,177.1 L796.8,172.1 L801.6,166.8 L806.5,161.4 L811.4,155.7 L816.3,149.8 L821.2,143.7 L826.1,137.5 L830.9,131.1 L835.8,124.5 L840.7,117.5 L845.6,110.4 L850.5,103.0 L855.4,95.3 L860.2,87.0 L865.1,78.3 L870.0,69.3" fill="none" stroke="#5e5e5e" stroke-width="1.15"/>
<path d="M484.2,379.3 L489.1,378.7 L494.0,378.0 L498.9,377.3 L503.8,376.6 L508.7,375.9 L513.5,375.2 L518.4,374.4 L523.3,373.6 L528.2,372.8 L533.1,371.9 L538.0,371.1 L542.8,370.2 L547.7,369.3 L552.6,368.4 L557.5,367.5 L562.4,366.6 L567.3,365.6 L572.1,364.6 L577.0,363.6 L581.9,362.6 L586.8,361.6 L591.7,360.7 L596.6,359.7 L601.4,358.7 L606.3,357.7 L611.2,356.6 L616.1,355.5 L621.0,354.4 L625.9,353.3 L630.7,352.0 L635.6,350.8 L640.5,349.4 L645.4,348.1 L650.3,346.6 L655.2,345.1 L660.0,343.6 L664.9,341.9 L669.8,340.3 L674.7,338.6 L679.6,336.8 L684.4,334.9 L689.3,333.0 L694.2,331.1 L699.1,329.1 L704.0,326.9 L708.9,324.7 L713.7,322.4 L718.6,320.0 L723.5,317.5 L728.4,314.8 L733.3,312.0 L738.2,309.1 L743.0,306.1 L747.9,302.9 L752.8,299.6 L757.7,296.1 L762.6,292.4 L767.5,288.6 L772.3,284.6 L777.2,280.4 L782.1,276.0 L787.0,271.5 L791.9,266.7 L796.8,261.7 L801.6,256.4 L806.5,251.0 L811.4,245.3 L816.3,239.4 L821.2,233.3 L826.1,227.1 L830.9,220.7 L835.8,214.1 L840.7,207.1 L845.6,200.0 L850.5,192.6 L855.4,184.9 L860.2,176.6 L865.1,167.9 L870.0,158.9" fill="none" stroke="#5e5e5e" stroke-width="1.15"/>
<path d="M484.2,468.9 L489.1,468.3 L494.0,467.6 L498.9,466.9 L503.8,466.2 L508.7,465.5 L513.5,464.8 L518.4,464.0 L523.3,463.2 L528.2,462.4 L533.1,461.5 L538.0,460.7 L542.8,459.8 L547.7,458.9 L552.6,458.0 L557.5,457.1 L562.4,456.2 L567.3,455.2 L572.1,454.2 L577.0,453.2 L581.9,452.2 L586.8,451.2 L591.7,450.3 L596.6,449.3 L601.4,448.3 L606.3,447.3 L611.2,446.2 L616.1,445.1 L621.0,444.0 L625.9,442.9 L630.7,441.6 L635.6,440.4 L640.5,439.0 L645.4,437.7 L650.3,436.2 L655.2,434.7 L660.0,433.2 L664.9,431.5 L669.8,429.9 L674.7,428.2 L679.6,426.4 L684.4,424.5 L689.3,422.6 L694.2,420.7 L699.1,418.7 L704.0,416.5 L708.9,414.3 L713.7,412.0 L718.6,409.6 L723.5,407.1 L728.4,404.4 L733.3,401.6 L738.2,398.7 L743.0,395.7 L747.9,392.5 L752.8,389.2 L757.7,385.7 L762.6,382.0 L767.5,378.2 L772.3,374.2 L777.2,370.0 L782.1,365.6 L787.0,361.1 L791.9,356.3 L796.8,351.3 L801.6,346.0 L806.5,340.6 L811.4,334.9 L816.3,329.0 L821.2,322.9 L826.1,316.7 L830.9,310.3 L835.8,303.7 L840.7,296.7 L845.6,289.6 L850.5,282.2 L855.4,274.5 L860.2,266.2 L865.1,257.5 L870.0,248.5" fill="none" stroke="#5e5e5e" stroke-width="1.15"/>
<path d="M484.2,558.5 L489.1,557.9 L494.0,557.2 L498.9,556.5 L503.8,555.8 L508.7,555.1 L513.5,554.4 L518.4,553.6 L523.3,552.8 L528.2,552.0 L533.1,551.1 L538.0,550.3 L542.8,549.4 L547.7,548.5 L552.6,547.6 L557.5,546.7 L562.4,545.8 L567.3,544.8 L572.1,543.8 L577.0,542.8 L581.9,541.8 L586.8,540.8 L591.7,539.9 L596.6,538.9 L601.4,537.9 L606.3,536.9 L611.2,535.8 L616.1,534.7 L621.0,533.6 L625.9,532.5 L630.7,531.2 L635.6,530.0 L640.5,528.6 L645.4,527.3 L650.3,525.8 L655.2,524.3 L660.0,522.8 L664.9,521.1 L669.8,519.5 L674.7,517.8 L679.6,516.0 L684.4,514.1 L689.3,512.2 L694.2,510.3 L699.1,508.3 L704.0,506.1 L708.9,503.9 L713.7,501.6 L718.6,499.2 L723.5,496.7 L728.4,494.0 L733.3,491.2 L738.2,488.3 L743.0,485.3 L747.9,482.1 L752.8,478.8 L757.7,475.3 L762.6,471.6 L767.5,467.8 L772.3,463.8 L777.2,459.6 L782.1,455.2 L787.0,450.7 L791.9,445.9 L796.8,440.9 L801.6,435.6 L806.5,430.2 L811.4,424.5 L816.3,418.6 L821.2,412.5 L826.1,406.3 L830.9,399.9 L835.8,393.3 L840.7,386.3 L845.6,379.2 L850.5,371.8 L855.4,364.1 L860.2,355.8 L865.1,347.1 L870.0,338.1" fill="none" stroke="#5e5e5e" stroke-width="1.15"/>
<path d="M484.2,648.1 L489.1,647.5 L494.0,646.8 L498.9,646.1 L503.8,645.4 L508.7,644.7 L513.5,644.0 L518.4,643.2 L523.3,642.4 L528.2,641.6 L533.1,640.7 L538.0,639.9 L542.8,639.0 L547.7,638.1 L552.6,637.2 L557.5,636.3 L562.4,635.4 L567.3,634.4 L572.1,633.4 L577.0,632.4 L581.9,631.4 L586.8,630.4 L591.7,629.5 L596.6,628.5 L601.4,627.5 L606.3,626.5 L611.2,625.4 L616.1,624.3 L621.0,623.2 L625.9,622.1 L630.7,620.8 L635.6,619.6 L640.5,618.2 L645.4,616.9 L650.3,615.4 L655.2,613.9 L660.0,612.4 L664.9,610.7 L669.8,609.1 L674.7,607.4 L679.6,605.6 L684.4,603.7 L689.3,601.8 L694.2,599.9 L699.1,597.9 L704.0,595.7 L708.9,593.5 L713.7,591.2 L718.6,588.8 L723.5,586.3 L728.4,583.6 L733.3,580.8 L738.2,577.9 L743.0,574.9 L747.9,571.7 L752.8,568.4 L757.7,564.9 L762.6,561.2 L767.5,557.4 L772.3,553.4 L777.2,549.2 L782.1,544.8 L787.0,540.3 L791.9,535.5 L796.8,530.5 L801.6,525.2 L806.5,519.8 L811.4,514.1 L816.3,508.2 L821.2,502.1 L826.1,495.9 L830.9,489.5 L835.8,482.9 L840.7,475.9 L845.6,468.8 L850.5,461.4 L855.4,453.7 L860.2,445.4 L865.1,436.7 L870.0,427.7" fill="none" stroke="#5e5e5e" stroke-width="1.15"/>
<path d="M484.2,737.7 L489.1,737.1 L494.0,736.4 L498.9,735.7 L503.8,735.0 L508.7,734.3 L513.5,733.6 L518.4,732.8 L523.3,732.0 L528.2,731.2 L533.1,730.3 L538.0,729.5 L542.8,728.6 L547.7,727.7 L552.6,726.8 L557.5,725.9 L562.4,725.0 L567.3,724.0 L572.1,723.0 L577.0,722.0 L581.9,721.0 L586.8,720.0 L591.7,719.1 L596.6,718.1 L601.4,717.1 L606.3,716.1 L611.2,715.0 L616.1,713.9 L621.0,712.8 L625.9,711.7 L630.7,710.4 L635.6,709.2 L640.5,707.8 L645.4,706.5 L650.3,705.0 L655.2,703.5 L660.0,702.0 L664.9,700.3 L669.8,698.7 L674.7,697.0 L679.6,695.2 L684.4,693.3 L689.3,691.4 L694.2,689.5 L699.1,687.5 L704.0,685.3 L708.9,683.1 L713.7,680.8 L718.6,678.4 L723.5,675.9 L728.4,673.2 L733.3,670.4 L738.2,667.5 L743.0,664.5 L747.9,661.3 L752.8,658.0 L757.7,654.5 L762.6,650.8 L767.5,647.0 L772.3,643.0 L777.2,638.8 L782.1,634.4 L787.0,629.9 L791.9,625.1 L796.8,620.1 L801.6,614.8 L806.5,609.4 L811.4,603.7 L816.3,597.8 L821.2,591.7 L826.1,585.5 L830.9,579.1 L835.8,572.5 L840.7,565.5 L845.6,558.4 L850.5,551.0 L855.4,543.3 L860.2,535.0 L865.1,526.3 L870.0,517.3" fill="none" stroke="#5e5e5e" stroke-width="1.15"/>
<g font-family="Liberation Serif, serif" font-size="11" style="text-rendering:geometricPrecision" fill="#333" text-anchor="middle">
<text x="529.1" y="380.2">32</text>
<text x="676.2" y="346.0">32</text>
<text x="571.9" y="462.5">16</text>
<text x="708.0" y="422.0">16</text>
<text x="807.0" y="349.5">16</text>
<text x="551.9" y="555.8">8</text>
<text x="695.8" y="516.4">8</text>
<text x="797.0" y="449.2">8</text>
<text x="867.0" y="353.1">8</text>
<text x="696.2" y="605.9">4</text>
<text x="797.0" y="539.1">4</text>
<text x="866.0" y="442.5">4</text>
<text x="866.6" y="532.9">2</text>
</g>
<line x1="479.25" y1="513.60" x2="875.00" y2="208.39" stroke="#000000" stroke-width="2.2"/>
<line x1="479.25" y1="536.29" x2="875.00" y2="231.08" stroke="#999999" stroke-width="2.3"/>
<line x1="479.25" y1="590.58" x2="875.00" y2="285.37" stroke="#0000cd" stroke-width="2.3"/>
<line x1="479.25" y1="661.55" x2="875.00" y2="356.34" stroke="#ba55d3" stroke-width="2.3"/>
<line x1="479.25" y1="706.33" x2="875.00" y2="401.12" stroke="#ffd700" stroke-width="2.3"/>
<line x1="735.19" y1="454.87" x2="735.19" y2="473.47" stroke="#ba55d3" stroke-width="2.2"/>
<line x1="647.25" y1="567.46" x2="647.25" y2="586.06" stroke="#ffd700" stroke-width="2.2"/>
</g>
<g clip-path="url(#cp12)">
<path d="M484.2,559.8 L489.1,559.3 L494.0,558.7 L498.9,558.0 L503.8,557.2 L508.7,556.4 L513.5,555.6 L518.4,554.6 L523.3,553.7 L528.2,552.6 L533.1,551.6 L538.0,550.5 L542.8,549.4 L547.7,548.3 L552.6,547.1 L557.5,546.0 L562.4,544.8 L567.3,543.6 L572.1,542.4 L577.0,541.1 L581.9,539.9 L586.8,538.6 L591.7,537.3 L596.6,535.9 L601.4,534.6 L606.3,533.2 L611.2,531.8 L616.1,530.4 L621.0,529.0 L625.9,527.5 L630.7,526.0 L635.6,524.4 L640.5,522.8 L645.4,521.2 L650.3,519.5 L655.2,517.8 L660.0,516.0 L664.9,514.1 L669.8,512.2 L674.7,510.1 L679.6,508.1 L684.4,505.9 L689.3,503.6 L694.2,501.2 L699.1,498.7 L704.0,496.1 L708.9,493.4 L713.7,490.6 L718.6,487.8 L723.5,485.0 L728.4,482.2 L733.3,479.4 L738.2,476.5 L743.0,473.4 L747.9,470.1 L752.8,466.7 L757.7,463.0 L762.6,459.0 L767.5,454.8 L772.3,450.3 L777.2,445.6 L782.1,440.7 L787.0,435.6 L791.9,430.3 L796.8,424.7 L801.6,419.0 L806.5,412.9 L811.4,406.7 L816.3,400.2 L821.2,393.4 L826.1,386.3 L830.9,379.0 L835.8,371.4 L840.7,363.5 L845.6,355.3 L850.5,346.8 L855.4,337.9 L860.2,328.7 L865.1,319.2 L870.0,309.4" fill="none" stroke="#5e5e5e" stroke-width="1.15"/>
<path d="M484.2,649.4 L489.1,648.9 L494.0,648.3 L498.9,647.6 L503.8,646.8 L508.7,646.0 L513.5,645.2 L518.4,644.2 L523.3,643.3 L528.2,642.2 L533.1,641.2 L538.0,640.1 L542.8,639.0 L547.7,637.9 L552.6,636.7 L557.5,635.6 L562.4,634.4 L567.3,633.2 L572.1,632.0 L577.0,630.7 L581.9,629.5 L586.8,628.2 L591.7,626.9 L596.6,625.5 L601.4,624.2 L606.3,622.8 L611.2,621.4 L616.1,620.0 L621.0,618.6 L625.9,617.1 L630.7,615.6 L635.6,614.0 L640.5,612.4 L645.4,610.8 L650.3,609.1 L655.2,607.4 L660.0,605.6 L664.9,603.7 L669.8,601.8 L674.7,599.7 L679.6,597.7 L684.4,595.5 L689.3,593.2 L694.2,590.8 L699.1,588.3 L704.0,585.7 L708.9,583.0 L713.7,580.2 L718.6,577.4 L723.5,574.6 L728.4,571.8 L733.3,569.0 L738.2,566.1 L743.0,563.0 L747.9,559.7 L752.8,556.3 L757.7,552.6 L762.6,548.6 L767.5,544.4 L772.3,539.9 L777.2,535.2 L782.1,530.3 L787.0,525.2 L791.9,519.9 L796.8,514.3 L801.6,508.6 L806.5,502.5 L811.4,496.3 L816.3,489.8 L821.2,483.0 L826.1,475.9 L830.9,468.6 L835.8,461.0 L840.7,453.1 L845.6,444.9 L850.5,436.4 L855.4,427.5 L860.2,418.3 L865.1,408.8 L870.0,399.0" fill="none" stroke="#5e5e5e" stroke-width="1.15"/>
<path d="M484.2,739.0 L489.1,738.5 L494.0,737.9 L498.9,737.2 L503.8,736.4 L508.7,735.6 L513.5,734.8 L518.4,733.8 L523.3,732.9 L528.2,731.8 L533.1,730.8 L538.0,729.7 L542.8,728.6 L547.7,727.5 L552.6,726.3 L557.5,725.2 L562.4,724.0 L567.3,722.8 L572.1,721.6 L577.0,720.3 L581.9,719.1 L586.8,717.8 L591.7,716.5 L596.6,715.1 L601.4,713.8 L606.3,712.4 L611.2,711.0 L616.1,709.6 L621.0,708.2 L625.9,706.7 L630.7,705.2 L635.6,703.6 L640.5,702.0 L645.4,700.4 L650.3,698.7 L655.2,697.0 L660.0,695.2 L664.9,693.3 L669.8,691.4 L674.7,689.3 L679.6,687.3 L684.4,685.1 L689.3,682.8 L694.2,680.4 L699.1,677.9 L704.0,675.3 L708.9,672.6 L713.7,669.8 L718.6,667.0 L723.5,664.2 L728.4,661.4 L733.3,658.6 L738.2,655.7 L743.0,652.6 L747.9,649.3 L752.8,645.9 L757.7,642.2 L762.6,638.2 L767.5,634.0 L772.3,629.5 L777.2,624.8 L782.1,619.9 L787.0,614.8 L791.9,609.5 L796.8,603.9 L801.6,598.2 L806.5,592.1 L811.4,585.9 L816.3,579.4 L821.2,572.6 L826.1,565.5 L830.9,558.2 L835.8,550.6 L840.7,542.7 L845.6,534.5 L850.5,526.0 L855.4,517.1 L860.2,507.9 L865.1,498.4 L870.0,488.6" fill="none" stroke="#5e5e5e" stroke-width="1.15"/>
<path d="M484.2,828.6 L489.1,828.1 L494.0,827.5 L498.9,826.8 L503.8,826.0 L508.7,825.2 L513.5,824.4 L518.4,823.4 L523.3,822.5 L528.2,821.4 L533.1,820.4 L538.0,819.3 L542.8,818.2 L547.7,817.1 L552.6,815.9 L557.5,814.8 L562.4,813.6 L567.3,812.4 L572.1,811.2 L577.0,809.9 L581.9,808.7 L586.8,807.4 L591.7,806.1 L596.6,804.7 L601.4,803.4 L606.3,802.0 L611.2,800.6 L616.1,799.2 L621.0,797.8 L625.9,796.3 L630.7,794.8 L635.6,793.2 L640.5,791.6 L645.4,790.0 L650.3,788.3 L655.2,786.6 L660.0,784.8 L664.9,782.9 L669.8,781.0 L674.7,778.9 L679.6,776.9 L684.4,774.7 L689.3,772.4 L694.2,770.0 L699.1,767.5 L704.0,764.9 L708.9,762.2 L713.7,759.4 L718.6,756.6 L723.5,753.8 L728.4,751.0 L733.3,748.2 L738.2,745.3 L743.0,742.2 L747.9,738.9 L752.8,735.5 L757.7,731.8 L762.6,727.8 L767.5,723.6 L772.3,719.1 L777.2,714.4 L782.1,709.5 L787.0,704.4 L791.9,699.1 L796.8,693.5 L801.6,687.8 L806.5,681.7 L811.4,675.5 L816.3,669.0 L821.2,662.2 L826.1,655.1 L830.9,647.8 L835.8,640.2 L840.7,632.3 L845.6,624.1 L850.5,615.6 L855.4,606.7 L860.2,597.5 L865.1,588.0 L870.0,578.2" fill="none" stroke="#5e5e5e" stroke-width="1.15"/>
<path d="M484.2,918.2 L489.1,917.7 L494.0,917.1 L498.9,916.4 L503.8,915.6 L508.7,914.8 L513.5,914.0 L518.4,913.0 L523.3,912.1 L528.2,911.0 L533.1,910.0 L538.0,908.9 L542.8,907.8 L547.7,906.7 L552.6,905.5 L557.5,904.4 L562.4,903.2 L567.3,902.0 L572.1,900.8 L577.0,899.5 L581.9,898.3 L586.8,897.0 L591.7,895.7 L596.6,894.3 L601.4,893.0 L606.3,891.6 L611.2,890.2 L616.1,888.8 L621.0,887.4 L625.9,885.9 L630.7,884.4 L635.6,882.8 L640.5,881.2 L645.4,879.6 L650.3,877.9 L655.2,876.2 L660.0,874.4 L664.9,872.5 L669.8,870.6 L674.7,868.5 L679.6,866.5 L684.4,864.3 L689.3,862.0 L694.2,859.6 L699.1,857.1 L704.0,854.5 L708.9,851.8 L713.7,849.0 L718.6,846.2 L723.5,843.4 L728.4,840.6 L733.3,837.8 L738.2,834.9 L743.0,831.8 L747.9,828.5 L752.8,825.1 L757.7,821.4 L762.6,817.4 L767.5,813.2 L772.3,808.7 L777.2,804.0 L782.1,799.1 L787.0,794.0 L791.9,788.7 L796.8,783.1 L801.6,777.4 L806.5,771.3 L811.4,765.1 L816.3,758.6 L821.2,751.8 L826.1,744.7 L830.9,737.4 L835.8,729.8 L840.7,721.9 L845.6,713.7 L850.5,705.2 L855.4,696.3 L860.2,687.1 L865.1,677.6 L870.0,667.8" fill="none" stroke="#5e5e5e" stroke-width="1.15"/>
<path d="M484.2,1007.8 L489.1,1007.3 L494.0,1006.7 L498.9,1006.0 L503.8,1005.2 L508.7,1004.4 L513.5,1003.6 L518.4,1002.6 L523.3,1001.7 L528.2,1000.6 L533.1,999.6 L538.0,998.5 L542.8,997.4 L547.7,996.3 L552.6,995.1 L557.5,994.0 L562.4,992.8 L567.3,991.6 L572.1,990.4 L577.0,989.1 L581.9,987.9 L586.8,986.6 L591.7,985.3 L596.6,983.9 L601.4,982.6 L606.3,981.2 L611.2,979.8 L616.1,978.4 L621.0,977.0 L625.9,975.5 L630.7,974.0 L635.6,972.4 L640.5,970.8 L645.4,969.2 L650.3,967.5 L655.2,965.8 L660.0,964.0 L664.9,962.1 L669.8,960.2 L674.7,958.1 L679.6,956.1 L684.4,953.9 L689.3,951.6 L694.2,949.2 L699.1,946.7 L704.0,944.1 L708.9,941.4 L713.7,938.6 L718.6,935.8 L723.5,933.0 L728.4,930.2 L733.3,927.4 L738.2,924.5 L743.0,921.4 L747.9,918.1 L752.8,914.7 L757.7,911.0 L762.6,907.0 L767.5,902.8 L772.3,898.3 L777.2,893.6 L782.1,888.7 L787.0,883.6 L791.9,878.3 L796.8,872.7 L801.6,867.0 L806.5,860.9 L811.4,854.7 L816.3,848.2 L821.2,841.4 L826.1,834.3 L830.9,827.0 L835.8,819.4 L840.7,811.5 L845.6,803.3 L850.5,794.8 L855.4,785.9 L860.2,776.7 L865.1,767.2 L870.0,757.4" fill="none" stroke="#5e5e5e" stroke-width="1.15"/>
<g font-family="Liberation Serif, serif" font-size="11" style="text-rendering:geometricPrecision" fill="#333" text-anchor="middle">
<text x="563.6" y="642.3">32</text>
<text x="501.4" y="743.5">16</text>
<text x="646.0" y="709.0">16</text>
<text x="760.2" y="647.4">16</text>
<text x="497.4" y="834.2">8</text>
<text x="645.2" y="798.6">8</text>
<text x="758.0" y="738.0">8</text>
<text x="836.4" y="649.0">8</text>
<text x="579.0" y="906.8">4</text>
<text x="710.9" y="856.9">4</text>
<text x="801.5" y="785.5">4</text>
<text x="866.0" y="681.9">4</text>
<text x="801.5" y="874.7">2</text>
<text x="866.6" y="774.2">2</text>
</g>
<line x1="479.25" y1="811.10" x2="875.00" y2="505.89" stroke="#000000" stroke-width="2.2"/>
<line x1="479.25" y1="833.79" x2="875.00" y2="528.58" stroke="#999999" stroke-width="2.3"/>
<line x1="479.25" y1="888.08" x2="875.00" y2="582.87" stroke="#0000cd" stroke-width="2.3"/>
<line x1="479.25" y1="959.05" x2="875.00" y2="653.84" stroke="#ba55d3" stroke-width="2.3"/>
<line x1="479.25" y1="1003.83" x2="875.00" y2="698.62" stroke="#ffd700" stroke-width="2.3"/>
<line x1="735.19" y1="752.37" x2="735.19" y2="770.97" stroke="#ba55d3" stroke-width="2.2"/>
<line x1="647.25" y1="864.96" x2="647.25" y2="883.56" stroke="#ffd700" stroke-width="2.2"/>
</g>
<path d="M156.56,36.50v6M156.56,334.00v-6M98.50,289.22h6M484.25,289.22h-6M190.52,36.50v6M190.52,334.00v-6M98.50,263.03h6M484.25,263.03h-6M214.62,36.50v6M214.62,334.00v-6M98.50,244.44h6M484.25,244.44h-6M233.31,36.50v6M233.31,334.00v-6M98.50,230.03h6M484.25,230.03h-6M248.59,36.50v6M248.59,334.00v-6M98.50,218.25h6M484.25,218.25h-6M261.50,36.50v6M261.50,334.00v-6M98.50,208.29h6M484.25,208.29h-6M272.68,36.50v6M272.68,334.00v-6M98.50,199.67h6M484.25,199.67h-6M282.55,36.50v6M282.55,334.00v-6M98.50,192.06h6M484.25,192.06h-6M291.38,36.50v12M291.38,334.00v-12M98.50,185.25h12M484.25,185.25h-12M349.44,36.50v6M349.44,334.00v-6M98.50,140.47h6M484.25,140.47h-6M383.40,36.50v6M383.40,334.00v-6M98.50,114.28h6M484.25,114.28h-6M407.50,36.50v6M407.50,334.00v-6M98.50,95.69h6M484.25,95.69h-6M426.19,36.50v6M426.19,334.00v-6M98.50,81.28h6M484.25,81.28h-6M441.46,36.50v6M441.46,334.00v-6M98.50,69.50h6M484.25,69.50h-6M454.37,36.50v6M454.37,334.00v-6M98.50,59.54h6M484.25,59.54h-6M465.56,36.50v6M465.56,334.00v-6M98.50,50.92h6M484.25,50.92h-6M475.42,36.50v6M475.42,334.00v-6M98.50,43.31h6M484.25,43.31h-6M156.56,334.00v6M156.56,631.50v-6M98.50,586.72h6M484.25,586.72h-6M190.52,334.00v6M190.52,631.50v-6M98.50,560.53h6M484.25,560.53h-6M214.62,334.00v6M214.62,631.50v-6M98.50,541.94h6M484.25,541.94h-6M233.31,334.00v6M233.31,631.50v-6M98.50,527.53h6M484.25,527.53h-6M248.59,334.00v6M248.59,631.50v-6M98.50,515.75h6M484.25,515.75h-6M261.50,334.00v6M261.50,631.50v-6M98.50,505.79h6M484.25,505.79h-6M272.68,334.00v6M272.68,631.50v-6M98.50,497.17h6M484.25,497.17h-6M282.55,334.00v6M282.55,631.50v-6M98.50,489.56h6M484.25,489.56h-6M291.38,334.00v12M291.38,631.50v-12M98.50,482.75h12M484.25,482.75h-12M349.44,334.00v6M349.44,631.50v-6M98.50,437.97h6M484.25,437.97h-6M383.40,334.00v6M383.40,631.50v-6M98.50,411.78h6M484.25,411.78h-6M407.50,334.00v6M407.50,631.50v-6M98.50,393.19h6M484.25,393.19h-6M426.19,334.00v6M426.19,631.50v-6M98.50,378.78h6M484.25,378.78h-6M441.46,334.00v6M441.46,631.50v-6M98.50,367.00h6M484.25,367.00h-6M454.37,334.00v6M454.37,631.50v-6M98.50,357.04h6M484.25,357.04h-6M465.56,334.00v6M465.56,631.50v-6M98.50,348.42h6M484.25,348.42h-6M475.42,334.00v6M475.42,631.50v-6M98.50,340.81h6M484.25,340.81h-6M156.56,631.50v6M156.56,929.00v-6M98.50,884.22h6M484.25,884.22h-6M190.52,631.50v6M190.52,929.00v-6M98.50,858.03h6M484.25,858.03h-6M214.62,631.50v6M214.62,929.00v-6M98.50,839.44h6M484.25,839.44h-6M233.31,631.50v6M233.31,929.00v-6M98.50,825.03h6M484.25,825.03h-6M248.59,631.50v6M248.59,929.00v-6M98.50,813.25h6M484.25,813.25h-6M261.50,631.50v6M261.50,929.00v-6M98.50,803.29h6M484.25,803.29h-6M272.68,631.50v6M272.68,929.00v-6M98.50,794.67h6M484.25,794.67h-6M282.55,631.50v6M282.55,929.00v-6M98.50,787.06h6M484.25,787.06h-6M291.38,631.50v12M291.38,929.00v-12M98.50,780.25h12M484.25,780.25h-12M349.44,631.50v6M349.44,929.00v-6M98.50,735.47h6M484.25,735.47h-6M383.40,631.50v6M383.40,929.00v-6M98.50,709.28h6M484.25,709.28h-6M407.50,631.50v6M407.50,929.00v-6M98.50,690.69h6M484.25,690.69h-6M426.19,631.50v6M426.19,929.00v-6M98.50,676.28h6M484.25,676.28h-6M441.46,631.50v6M441.46,929.00v-6M98.50,664.50h6M484.25,664.50h-6M454.37,631.50v6M454.37,929.00v-6M98.50,654.54h6M484.25,654.54h-6M465.56,631.50v6M465.56,929.00v-6M98.50,645.92h6M484.25,645.92h-6M475.42,631.50v6M475.42,929.00v-6M98.50,638.31h6M484.25,638.31h-6M542.31,36.50v6M542.31,334.00v-6M484.25,289.22h6M870.00,289.22h-6M576.27,36.50v6M576.27,334.00v-6M484.25,263.03h6M870.00,263.03h-6M600.37,36.50v6M600.37,334.00v-6M484.25,244.44h6M870.00,244.44h-6M619.06,36.50v6M619.06,334.00v-6M484.25,230.03h6M870.00,230.03h-6M634.34,36.50v6M634.34,334.00v-6M484.25,218.25h6M870.00,218.25h-6M647.25,36.50v6M647.25,334.00v-6M484.25,208.29h6M870.00,208.29h-6M658.43,36.50v6M658.43,334.00v-6M484.25,199.67h6M870.00,199.67h-6M668.30,36.50v6M668.30,334.00v-6M484.25,192.06h6M870.00,192.06h-6M677.12,36.50v12M677.12,334.00v-12M484.25,185.25h12M870.00,185.25h-12M735.19,36.50v6M735.19,334.00v-6M484.25,140.47h6M870.00,140.47h-6M769.15,36.50v6M769.15,334.00v-6M484.25,114.28h6M870.00,114.28h-6M793.25,36.50v6M793.25,334.00v-6M484.25,95.69h6M870.00,95.69h-6M811.94,36.50v6M811.94,334.00v-6M484.25,81.28h6M870.00,81.28h-6M827.21,36.50v6M827.21,334.00v-6M484.25,69.50h6M870.00,69.50h-6M840.12,36.50v6M840.12,334.00v-6M484.25,59.54h6M870.00,59.54h-6M851.31,36.50v6M851.31,334.00v-6M484.25,50.92h6M870.00,50.92h-6M861.17,36.50v6M861.17,334.00v-6M484.25,43.31h6M870.00,43.31h-6M542.31,334.00v6M542.31,631.50v-6M484.25,586.72h6M870.00,586.72h-6M576.27,334.00v6M576.27,631.50v-6M484.25,560.53h6M870.00,560.53h-6M600.37,334.00v6M600.37,631.50v-6M484.25,541.94h6M870.00,541.94h-6M619.06,334.00v6M619.06,631.50v-6M484.25,527.53h6M870.00,527.53h-6M634.34,334.00v6M634.34,631.50v-6M484.25,515.75h6M870.00,515.75h-6M647.25,334.00v6M647.25,631.50v-6M484.25,505.79h6M870.00,505.79h-6M658.43,334.00v6M658.43,631.50v-6M484.25,497.17h6M870.00,497.17h-6M668.30,334.00v6M668.30,631.50v-6M484.25,489.56h6M870.00,489.56h-6M677.12,334.00v12M677.12,631.50v-12M484.25,482.75h12M870.00,482.75h-12M735.19,334.00v6M735.19,631.50v-6M484.25,437.97h6M870.00,437.97h-6M769.15,334.00v6M769.15,631.50v-6M484.25,411.78h6M870.00,411.78h-6M793.25,334.00v6M793.25,631.50v-6M484.25,393.19h6M870.00,393.19h-6M811.94,334.00v6M811.94,631.50v-6M484.25,378.78h6M870.00,378.78h-6M827.21,334.00v6M827.21,631.50v-6M484.25,367.00h6M870.00,367.00h-6M840.12,334.00v6M840.12,631.50v-6M484.25,357.04h6M870.00,357.04h-6M851.31,334.00v6M851.31,631.50v-6M484.25,348.42h6M870.00,348.42h-6M861.17,334.00v6M861.17,631.50v-6M484.25,340.81h6M870.00,340.81h-6M542.31,631.50v6M542.31,929.00v-6M484.25,884.22h6M870.00,884.22h-6M576.27,631.50v6M576.27,929.00v-6M484.25,858.03h6M870.00,858.03h-6M600.37,631.50v6M600.37,929.00v-6M484.25,839.44h6M870.00,839.44h-6M619.06,631.50v6M619.06,929.00v-6M484.25,825.03h6M870.00,825.03h-6M634.34,631.50v6M634.34,929.00v-6M484.25,813.25h6M870.00,813.25h-6M647.25,631.50v6M647.25,929.00v-6M484.25,803.29h6M870.00,803.29h-6M658.43,631.50v6M658.43,929.00v-6M484.25,794.67h6M870.00,794.67h-6M668.30,631.50v6M668.30,929.00v-6M484.25,787.06h6M870.00,787.06h-6M677.12,631.50v12M677.12,929.00v-12M484.25,780.25h12M870.00,780.25h-12M735.19,631.50v6M735.19,929.00v-6M484.25,735.47h6M870.00,735.47h-6M769.15,631.50v6M769.15,929.00v-6M484.25,709.28h6M870.00,709.28h-6M793.25,631.50v6M793.25,929.00v-6M484.25,690.69h6M870.00,690.69h-6M811.94,631.50v6M811.94,929.00v-6M484.25,676.28h6M870.00,676.28h-6M827.21,631.50v6M827.21,929.00v-6M484.25,664.50h6M870.00,664.50h-6M840.12,631.50v6M840.12,929.00v-6M484.25,654.54h6M870.00,654.54h-6M851.31,631.50v6M851.31,929.00v-6M484.25,645.92h6M870.00,645.92h-6M861.17,631.50v6M861.17,929.00v-6M484.25,638.31h6M870.00,638.31h-6" stroke="#000" stroke-width="0.9" fill="none"/>
<rect x="98.50" y="36.50" width="771.50" height="892.50" fill="none" stroke="#000" stroke-width="1"/>
<path d="M484.35,36.5V929.0" stroke="#000" stroke-width="1.15" fill="none"/>
<path d="M98.5,334.0H870.0M98.5,631.5H870.0" stroke="#000" stroke-width="1" fill="none"/>
<text font-family="Liberation Serif, serif" font-size="14" letter-spacing="0.05" fill="#000000" stroke="#000000" stroke-width="0.22" transform="translate(136.7,326.2) rotate(-37.14)">ATHENA+</text>
<text font-family="Liberation Serif, serif" font-size="14" letter-spacing="0.05" fill="#999999" stroke="#999999" stroke-width="0.22" transform="translate(167.9,326.2) rotate(-37.14)">WFXT</text>
<text font-family="Liberation Serif, serif" font-size="14" letter-spacing="0.05" fill="#0000cd" stroke="#0000cd" stroke-width="0.22" transform="translate(236.7,325.8) rotate(-38.34)">SMART-X</text>
<text font-family="Liberation Serif, serif" font-size="14" letter-spacing="0.05" fill="#ba55d3" stroke="#ba55d3" stroke-width="0.22" transform="translate(328.3,325.3) rotate(-37.14)">eROSITA</text>
<text font-family="Liberation Serif, serif" font-size="14" letter-spacing="0.05" fill="#ffd700" stroke="#ffd700" stroke-width="0.22" transform="translate(411.1,325.4) rotate(-37.14)">XMM</text>
<text font-family="Liberation Serif, serif" font-size="14" letter-spacing="0.05" fill="#000000" stroke="#000000" stroke-width="0.22" transform="translate(136.7,623.7) rotate(-37.14)">ATHENA+</text>
<text font-family="Liberation Serif, serif" font-size="14" letter-spacing="0.05" fill="#999999" stroke="#999999" stroke-width="0.22" transform="translate(167.9,623.7) rotate(-37.14)">WFXT</text>
<text font-family="Liberation Serif, serif" font-size="14" letter-spacing="0.05" fill="#0000cd" stroke="#0000cd" stroke-width="0.22" transform="translate(236.7,623.3) rotate(-38.34)">SMART-X</text>
<text font-family="Liberation Serif, serif" font-size="14" letter-spacing="0.05" fill="#ba55d3" stroke="#ba55d3" stroke-width="0.22" transform="translate(328.3,622.8) rotate(-37.14)">eROSITA</text>
<text font-family="Liberation Serif, serif" font-size="14" letter-spacing="0.05" fill="#ffd700" stroke="#ffd700" stroke-width="0.22" transform="translate(411.1,622.9) rotate(-37.14)">XMM</text>
<text font-family="Liberation Serif, serif" font-size="14" letter-spacing="0.05" fill="#000000" stroke="#000000" stroke-width="0.22" transform="translate(136.7,921.2) rotate(-37.14)">ATHENA+</text>
<text font-family="Liberation Serif, serif" font-size="14" letter-spacing="0.05" fill="#999999" stroke="#999999" stroke-width="0.22" transform="translate(167.9,921.2) rotate(-37.14)">WFXT</text>
<text font-family="Liberation Serif, serif" font-size="14" letter-spacing="0.05" fill="#0000cd" stroke="#0000cd" stroke-width="0.22" transform="translate(236.7,920.8) rotate(-38.34)">SMART-X</text>
<text font-family="Liberation Serif, serif" font-size="14" letter-spacing="0.05" fill="#ba55d3" stroke="#ba55d3" stroke-width="0.22" transform="translate(328.3,920.3) rotate(-37.14)">eROSITA</text>
<text font-family="Liberation Serif, serif" font-size="14" letter-spacing="0.05" fill="#ffd700" stroke="#ffd700" stroke-width="0.22" transform="translate(411.1,920.4) rotate(-37.14)">XMM</text>
<text font-family="Liberation Serif, serif" font-size="14" letter-spacing="0.05" fill="#000000" stroke="#000000" stroke-width="0.22" transform="translate(489.4,202.7) rotate(-37.14)">ATHENA+</text>
<text font-family="Liberation Serif, serif" font-size="14" letter-spacing="0.05" fill="#999999" stroke="#999999" stroke-width="0.22" transform="translate(518.8,202.7) rotate(-37.14)">WFXT</text>
<text font-family="Liberation Serif, serif" font-size="14" letter-spacing="0.05" fill="#0000cd" stroke="#0000cd" stroke-width="0.22" transform="translate(590.1,203.0) rotate(-38.34)">SMART-X</text>
<text font-family="Liberation Serif, serif" font-size="14" letter-spacing="0.05" fill="#ba55d3" stroke="#ba55d3" stroke-width="0.22" transform="translate(680.5,203.9) rotate(-37.14)">eROSITA</text>
<text font-family="Liberation Serif, serif" font-size="14" letter-spacing="0.05" fill="#ffd700" stroke="#ffd700" stroke-width="0.22" transform="translate(764.8,203.0) rotate(-37.14)">XMM</text>
<text font-family="Liberation Serif, serif" font-size="14" letter-spacing="0.05" fill="#000000" stroke="#000000" stroke-width="0.22" transform="translate(489.4,500.2) rotate(-37.14)">ATHENA+</text>
<text font-family="Liberation Serif, serif" font-size="14" letter-spacing="0.05" fill="#999999" stroke="#999999" stroke-width="0.22" transform="translate(518.8,500.2) rotate(-37.14)">WFXT</text>
<text font-family="Liberation Serif, serif" font-size="14" letter-spacing="0.05" fill="#0000cd" stroke="#0000cd" stroke-width="0.22" transform="translate(590.1,500.5) rotate(-38.34)">SMART-X</text>
<text font-family="Liberation Serif, serif" font-size="14" letter-spacing="0.05" fill="#ba55d3" stroke="#ba55d3" stroke-width="0.22" transform="translate(680.5,501.4) rotate(-37.14)">eROSITA</text>
<text font-family="Liberation Serif, serif" font-size="14" letter-spacing="0.05" fill="#ffd700" stroke="#ffd700" stroke-width="0.22" transform="translate(764.8,500.5) rotate(-37.14)">XMM</text>
<text font-family="Liberation Serif, serif" font-size="14" letter-spacing="0.05" fill="#000000" stroke="#000000" stroke-width="0.22" transform="translate(489.4,797.7) rotate(-37.14)">ATHENA+</text>
<text font-family="Liberation Serif, serif" font-size="14" letter-spacing="0.05" fill="#999999" stroke="#999999" stroke-width="0.22" transform="translate(518.8,797.7) rotate(-37.14)">WFXT</text>
<text font-family="Liberation Serif, serif" font-size="14" letter-spacing="0.05" fill="#0000cd" stroke="#0000cd" stroke-width="0.22" transform="translate(590.1,798.0) rotate(-38.34)">SMART-X</text>
<text font-family="Liberation Serif, serif" font-size="14" letter-spacing="0.05" fill="#ba55d3" stroke="#ba55d3" stroke-width="0.22" transform="translate(680.5,798.9) rotate(-37.14)">eROSITA</text>
<text font-family="Liberation Serif, serif" font-size="14" letter-spacing="0.05" fill="#ffd700" stroke="#ffd700" stroke-width="0.22" transform="translate(764.8,798.0) rotate(-37.14)">XMM</text>
<g font-family="Liberation Serif, serif" style="text-rendering:geometricPrecision">
<g stroke="#228b22" stroke-width="0.15">
<text x="116.80" y="63.40" font-size="17.2" fill="#228b22" font-family="Liberation Sans, sans-serif">σ</text>
<text x="127.50" y="67.20" font-size="14" fill="#228b22">0</text>
<text x="137.30" y="63.70" font-size="18.2" fill="#228b22">=</text>
<text x="151.50" y="63.40" font-size="16.5" fill="#228b22">10</text>
<text x="167.10" y="57.40" font-size="14.5" fill="#228b22">-3</text>
<text x="179.20" y="63.40" font-size="16.5" fill="#228b22">,</text>
<text x="187.60" y="63.40" font-size="16.5" fill="#228b22">f</text>
<text x="193.00" y="66.90" font-size="13.5" fill="#228b22">fail</text>
<text x="213.10" y="63.70" font-size="18.2" fill="#228b22">=</text>
<text x="227.90" y="63.40" font-size="16.5" fill="#228b22">0.0</text>
<text x="116.80" y="360.90" font-size="17.2" fill="#228b22" font-family="Liberation Sans, sans-serif">σ</text>
<text x="127.50" y="364.70" font-size="14" fill="#228b22">0</text>
<text x="137.30" y="361.20" font-size="18.2" fill="#228b22">=</text>
<text x="151.50" y="360.90" font-size="16.5" fill="#228b22">10</text>
<text x="167.10" y="354.90" font-size="14.5" fill="#228b22">-2</text>
<text x="179.20" y="360.90" font-size="16.5" fill="#228b22">,</text>
<text x="187.60" y="360.90" font-size="16.5" fill="#228b22">f</text>
<text x="193.00" y="364.40" font-size="13.5" fill="#228b22">fail</text>
<text x="213.10" y="361.20" font-size="18.2" fill="#228b22">=</text>
<text x="227.90" y="360.90" font-size="16.5" fill="#228b22">0.0</text>
<text x="116.80" y="658.40" font-size="17.2" fill="#228b22" font-family="Liberation Sans, sans-serif">σ</text>
<text x="127.50" y="662.20" font-size="14" fill="#228b22">0</text>
<text x="137.30" y="658.70" font-size="18.2" fill="#228b22">=</text>
<text x="151.50" y="658.40" font-size="16.5" fill="#228b22">10</text>
<text x="167.10" y="652.40" font-size="14.5" fill="#228b22">-2</text>
<text x="179.20" y="658.40" font-size="16.5" fill="#228b22">,</text>
<text x="187.60" y="658.40" font-size="16.5" fill="#228b22">f</text>
<text x="193.00" y="661.90" font-size="13.5" fill="#228b22">fail</text>
<text x="213.10" y="658.70" font-size="18.2" fill="#228b22">=</text>
<text x="227.90" y="658.40" font-size="16.5" fill="#228b22">0.3</text>
<text x="502.55" y="63.40" font-size="17.2" fill="#228b22" font-family="Liberation Sans, sans-serif">σ</text>
<text x="513.25" y="67.20" font-size="14" fill="#228b22">0</text>
<text x="523.05" y="63.70" font-size="18.2" fill="#228b22">=</text>
<text x="537.25" y="63.40" font-size="16.5" fill="#228b22">10</text>
<text x="552.85" y="57.40" font-size="14.5" fill="#228b22">-3</text>
<text x="564.95" y="63.40" font-size="16.5" fill="#228b22">,</text>
<text x="573.35" y="63.40" font-size="16.5" fill="#228b22">f</text>
<text x="578.75" y="66.90" font-size="13.5" fill="#228b22">fail</text>
<text x="598.85" y="63.70" font-size="18.2" fill="#228b22">=</text>
<text x="613.65" y="63.40" font-size="16.5" fill="#228b22">0.0</text>
<text x="502.55" y="360.90" font-size="17.2" fill="#228b22" font-family="Liberation Sans, sans-serif">σ</text>
<text x="513.25" y="364.70" font-size="14" fill="#228b22">0</text>
<text x="523.05" y="361.20" font-size="18.2" fill="#228b22">=</text>
<text x="537.25" y="360.90" font-size="16.5" fill="#228b22">10</text>
<text x="552.85" y="354.90" font-size="14.5" fill="#228b22">-2</text>
<text x="564.95" y="360.90" font-size="16.5" fill="#228b22">,</text>
<text x="573.35" y="360.90" font-size="16.5" fill="#228b22">f</text>
<text x="578.75" y="364.40" font-size="13.5" fill="#228b22">fail</text>
<text x="598.85" y="361.20" font-size="18.2" fill="#228b22">=</text>
<text x="613.65" y="360.90" font-size="16.5" fill="#228b22">0.0</text>
<text x="502.55" y="658.40" font-size="17.2" fill="#228b22" font-family="Liberation Sans, sans-serif">σ</text>
<text x="513.25" y="662.20" font-size="14" fill="#228b22">0</text>
<text x="523.05" y="658.70" font-size="18.2" fill="#228b22">=</text>
<text x="537.25" y="658.40" font-size="16.5" fill="#228b22">10</text>
<text x="552.85" y="652.40" font-size="14.5" fill="#228b22">-2</text>
<text x="564.95" y="658.40" font-size="16.5" fill="#228b22">,</text>
<text x="573.35" y="658.40" font-size="16.5" fill="#228b22">f</text>
<text x="578.75" y="661.90" font-size="13.5" fill="#228b22">fail</text>
<text x="598.85" y="658.70" font-size="18.2" fill="#228b22">=</text>
<text x="613.65" y="658.40" font-size="16.5" fill="#228b22">0.3</text>
</g>
<text x="214.40" y="18.90" font-size="27.4" fill="#000">T = 100 days</text>
<text x="600.60" y="18.90" font-size="27.4" fill="#000">T = 1000 days</text>
<text x="81.00" y="44.80" font-size="24.5" fill="#000" text-anchor="end">1</text>
<text x="81.00" y="193.25" font-size="24.5" fill="#000" text-anchor="end">0.1</text>
<text x="81.00" y="342.50" font-size="24.5" fill="#000" text-anchor="end">0.01</text>
<g transform="translate(23.9,208.4) rotate(-90)"><text font-size="33" x="0" y="0">f</text><text font-size="27.5" transform="translate(11.4,8.4) scale(0.92,1)">sky</text></g>
<text x="81.00" y="490.75" font-size="24.5" fill="#000" text-anchor="end">0.1</text>
<text x="81.00" y="640.00" font-size="24.5" fill="#000" text-anchor="end">0.01</text>
<g transform="translate(23.9,505.9) rotate(-90)"><text font-size="33" x="0" y="0">f</text><text font-size="27.5" transform="translate(11.4,8.4) scale(0.92,1)">sky</text></g>
<text x="81.00" y="788.25" font-size="24.5" fill="#000" text-anchor="end">0.1</text>
<text x="81.00" y="937.50" font-size="24.5" fill="#000" text-anchor="end">0.01</text>
<g transform="translate(23.9,803.5) rotate(-90)"><text font-size="33" x="0" y="0">f</text><text font-size="27.5" transform="translate(11.4,8.4) scale(0.92,1)">sky</text></g>
<text x="99.00" y="975.00" font-size="24.5" fill="#000" text-anchor="middle">1e-16</text>
<text x="291.88" y="975.00" font-size="24.5" fill="#000" text-anchor="middle">1e-15</text>
<text x="484.75" y="975.00" font-size="24.5" fill="#000" text-anchor="middle">1e-16</text>
<text x="677.62" y="975.00" font-size="24.5" fill="#000" text-anchor="middle">1e-15</text>
<text x="870.50" y="975.00" font-size="24.5" fill="#000" text-anchor="middle">1e-14</text>
<text x="185.70" y="1028.90" font-size="33" fill="#000">F</text>
<text font-size="27.5" transform="translate(205.6,1036.5) scale(0.9,1)">lim</text>
<text x="247.40" y="1028.90" font-size="33" fill="#000">[erg/s/cm</text>
<text font-size="27.5" transform="translate(372.9,1017.4) scale(0.92,1)">2</text>
<text x="385.90" y="1028.90" font-size="33" fill="#000">]</text>
<text x="571.40" y="1028.90" font-size="33" fill="#000">F</text>
<text font-size="27.5" transform="translate(591.3,1036.5) scale(0.9,1)">lim</text>
<text x="633.10" y="1028.90" font-size="33" fill="#000">[erg/s/cm</text>
<text font-size="27.5" transform="translate(758.6,1017.4) scale(0.92,1)">2</text>
<text x="771.60" y="1028.90" font-size="33" fill="#000">]</text>
</g>
</svg>
</body></html>
